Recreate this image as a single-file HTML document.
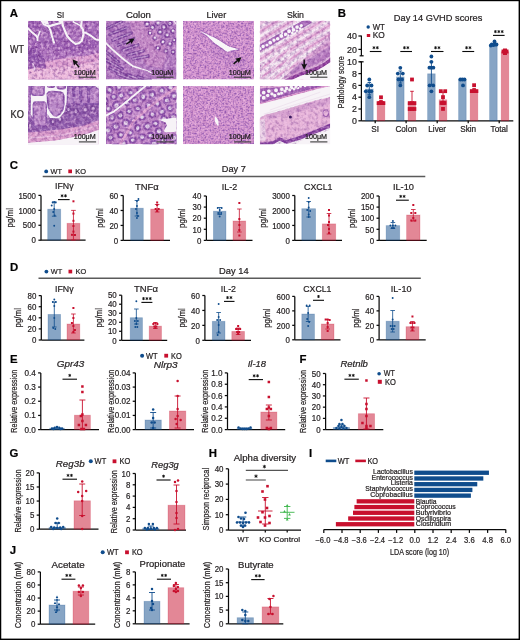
<!DOCTYPE html>
<html><head><meta charset="utf-8"><style>
html,body{margin:0;padding:0;background:#fff;width:520px;height:640px;overflow:hidden}
svg{display:block;font-family:"Liberation Sans", sans-serif;will-change:transform}
text{stroke:#231f20;stroke-width:0.22px}
</style></head><body>
<svg width="520" height="640" viewBox="0 0 520 640" fill="#231f20">
<defs><filter id="tD" x="0" y="0" width="100%" height="100%" color-interpolation-filters="sRGB"><feTurbulence type="fractalNoise" baseFrequency="0.32" numOctaves="2" seed="3"/><feColorMatrix type="matrix" values="0 0 0 0 0.42 0 0 0 0 0.16 0 0 0 0 0.52 2.3 0 0 0 -0.95"/><feGaussianBlur stdDeviation="0.4"/></filter><filter id="tL" x="0" y="0" width="100%" height="100%" color-interpolation-filters="sRGB"><feTurbulence type="fractalNoise" baseFrequency="0.34" numOctaves="2" seed="8"/><feColorMatrix type="matrix" values="0 0 0 0 0.97 0 0 0 0 0.82 0 0 0 0 0.94 0 2.4 0 0 -1.02"/><feGaussianBlur stdDeviation="0.4"/></filter><filter id="tD2" x="0" y="0" width="100%" height="100%" color-interpolation-filters="sRGB"><feTurbulence type="fractalNoise" baseFrequency="0.45" numOctaves="2" seed="21"/><feColorMatrix type="matrix" values="0 0 0 0 0.45 0 0 0 0 0.22 0 0 0 0 0.6 2.0 0 0 0 -0.85"/><feGaussianBlur stdDeviation="0.4"/></filter><filter id="lvD" x="0" y="0" width="100%" height="100%" color-interpolation-filters="sRGB"><feTurbulence type="fractalNoise" baseFrequency="0.6" numOctaves="1" seed="5"/><feColorMatrix type="matrix" values="0 0 0 0 0.56 0 0 0 0 0.34 0 0 0 0 0.7 3.2 0 0 0 -1.45"/><feGaussianBlur stdDeviation="0.35"/></filter><filter id="lvL" x="0" y="0" width="100%" height="100%" color-interpolation-filters="sRGB"><feTurbulence type="fractalNoise" baseFrequency="0.35" numOctaves="2" seed="9"/><feColorMatrix type="matrix" values="0 0 0 0 0.93 0 0 0 0 0.72 0 0 0 0 0.88 0 2.4 0 0 -1.0"/><feGaussianBlur stdDeviation="0.5"/></filter><clipPath id="cl0"><rect x="28.0" y="20.8" width="70.90" height="58.70"/></clipPath><mask id="mk0" maskUnits="userSpaceOnUse" x="28.0" y="20.8" width="70.90" height="58.70"><rect x="28.0" y="20.8" width="70.90" height="58.70" fill="#fff"/><path d="M27.0,27.3 L32.0,32.3 L36.2,35.8 L37.4,37.8 L37.6,40.3" fill="none" stroke="#000" stroke-width="2.0" stroke-linejoin="round" stroke-linecap="round"/><path d="M37.4,37.8 L40.0,31.3" fill="none" stroke="#000" stroke-width="1.6" stroke-linejoin="round" stroke-linecap="round"/><path d="M41.0,19.8 L43.7,24.2 L48.5,26.4 L50.5,30.4 L51.9,35.8 L53.3,40.6 L54.0,42.7" fill="none" stroke="#000" stroke-width="2.1" stroke-linejoin="round" stroke-linecap="round"/><path d="M48.5,26.4 L55.3,24.4 L60.8,23.0 L61.9,19.8" fill="none" stroke="#000" stroke-width="2.2" stroke-linejoin="round" stroke-linecap="round"/><path d="M61.9,19.8 L63.0,26.2 L65.0,31.0 L67.2,36.0 L71.0,40.5 L75.5,44.0 L78.8,43.2 L81.8,40.8 L83.5,33.9 L83.1,29.7 L81.0,26.6 L81.8,19.8" fill="none" stroke="#000" stroke-width="2.2" stroke-linejoin="round" stroke-linecap="round"/><path d="M83.5,32.4 L85.9,32.8 L89.0,34.6 L92.2,36.7 L95.6,39.4 L99.9,40.0" fill="none" stroke="#000" stroke-width="2.0" stroke-linejoin="round" stroke-linecap="round"/><path d="M73.4,19.8 L73.4,22.1 L77.0,23.8 L80.4,25.6" fill="none" stroke="#000" stroke-width="1.6" stroke-linejoin="round" stroke-linecap="round"/><path d="M40.5,19.8 L47.5,19.8 L49.2,24.8 L46.0,24.2 L42.5,22.8 Z" fill="#000" fill-rule="evenodd"/><path d="M57.0,19.8 L63.0,19.8 L62.5,23.5 L59.5,22.5 Z" fill="#000" fill-rule="evenodd"/></mask><clipPath id="cl1"><rect x="106.0" y="20.8" width="70.50" height="58.70"/></clipPath><mask id="mk1" maskUnits="userSpaceOnUse" x="106.0" y="20.8" width="70.50" height="58.70"><rect x="106.0" y="20.8" width="70.50" height="58.70" fill="#fff"/><path d="M105.0,42.2 L111.5,48.7 L116.9,53.5 L122.4,58.3 L128.5,63.0 L133.3,66.4 L140.2,68.5" fill="none" stroke="#000" stroke-width="1.8" stroke-linejoin="round" stroke-linecap="round"/><path d="M140.2,68.5 L147.0,70.5 L151.0,72.6" fill="none" stroke="#000" stroke-width="1.3" stroke-linejoin="round" stroke-linecap="round"/><path d="M173.0,19.8 L177.5,25.8" fill="none" stroke="#000" stroke-width="1.1" stroke-linejoin="round" stroke-linecap="round"/></mask><clipPath id="cl2"><rect x="183.0" y="20.8" width="71.00" height="58.70"/></clipPath><mask id="mk2" maskUnits="userSpaceOnUse" x="183.0" y="20.8" width="71.00" height="58.70"><rect x="183.0" y="20.8" width="71.00" height="58.70" fill="#fff"/><path d="M200.8,31.3 L205.6,33.4 L210.4,35.8 L215.2,37.9 L220.0,40.8 L224.8,44.0 L229.7,46.7 L234.5,48.1 L238.3,49.1 L238.3,49.6 L234.5,50.0 L230.6,50.8 L227.7,51.9 L224.8,50.6 L222.0,48.3 L219.1,46.3 L215.2,43.8 L212.3,41.0 L209.5,38.3 L206.6,35.6 L202.7,33.1 L200.8,31.8 Z" fill="#000" fill-rule="evenodd"/></mask><clipPath id="cl3"><rect x="259.8" y="20.8" width="70.40" height="58.70"/></clipPath><mask id="mk3" maskUnits="userSpaceOnUse" x="259.8" y="20.8" width="70.40" height="58.70"><rect x="259.8" y="20.8" width="70.40" height="58.70" fill="#fff"/><path d="M258.2,48.8 a1.7,1.7 0 1,0 3.4,0 a1.7,1.7 0 1,0 -3.4,0 M261.3,46.4 a1.8,1.8 0 1,0 3.6,0 a1.8,1.8 0 1,0 -3.6,0 M265.3,45.0 a1.6,1.6 0 1,0 3.2,0 a1.6,1.6 0 1,0 -3.2,0 M268.3,42.7 a1.9,1.9 0 1,0 3.8,0 a1.9,1.9 0 1,0 -3.8,0 M272.3,40.2 a1.7,1.7 0 1,0 3.4,0 a1.7,1.7 0 1,0 -3.4,0 M275.9,38.7 a1.8,1.8 0 1,0 3.6,0 a1.8,1.8 0 1,0 -3.6,0 M279.3,35.9 a2.0,2.0 0 1,0 4.0,0 a2.0,2.0 0 1,0 -4.0,0 M283.8,34.4 a1.9,1.9 0 1,0 3.8,0 a1.9,1.9 0 1,0 -3.8,0 M287.1,31.3 a2.0,2.0 0 1,0 4.0,0 a2.0,2.0 0 1,0 -4.0,0 M291.5,29.8 a1.9,1.9 0 1,0 3.8,0 a1.9,1.9 0 1,0 -3.8,0 M295.2,27.1 a1.9,1.9 0 1,0 3.8,0 a1.9,1.9 0 1,0 -3.8,0 M299.6,25.6 a1.7,1.7 0 1,0 3.4,0 a1.7,1.7 0 1,0 -3.4,0 M286.7,35.5 a1.3,1.3 0 1,0 2.6,0 a1.3,1.3 0 1,0 -2.6,0 M290.9,32.9 a1.4,1.4 0 1,0 2.8,0 a1.4,1.4 0 1,0 -2.8,0 M295.5,30.8 a1.3,1.3 0 1,0 2.6,0 a1.3,1.3 0 1,0 -2.6,0 M298.8,28.5 a1.3,1.3 0 1,0 2.6,0 a1.3,1.3 0 1,0 -2.6,0 M281.0,33.1 a1.1,1.1 0 1,0 2.2,0 a1.1,1.1 0 1,0 -2.2,0 M291.2,27.1 a1.2,1.2 0 1,0 2.4,0 a1.2,1.2 0 1,0 -2.4,0 " fill="#000" fill-rule="evenodd"/><path d="M288.0,80.5 L292.0,80.0 L299.3,76.6 L308.0,73.6 L317.0,70.5 L324.0,66.5 L331.2,61.5 L331.2,80.5 Z" fill="#000" fill-rule="evenodd"/></mask><clipPath id="cl4"><rect x="28.0" y="86.1" width="70.90" height="58.10"/></clipPath><mask id="mk4" maskUnits="userSpaceOnUse" x="28.0" y="86.1" width="70.90" height="58.10"><rect x="28.0" y="86.1" width="70.90" height="58.10" fill="#fff"/><path d="M29.5,85.0 L66.3,85.0 L66.3,103.0 L64.5,112.0 L59.0,118.5 L50.0,118.0 L47.5,114.0 L47.5,118.0 L33.0,118.0 L30.5,114.0 Z" fill="#000" fill-rule="evenodd"/><path d="M28.0,142.7 L55.3,140.6 L82.6,135.2 L98.9,129.7 L98.9,145.2 L28.0,145.2 Z" fill="#000" fill-rule="evenodd"/><path d="M66.3,85.0 L65.8,103.0" fill="none" stroke="#000" stroke-width="1.5" stroke-linejoin="round" stroke-linecap="round"/><path d="M94.0,85.0 L99.5,85.0 L99.5,89.5 L97.0,87.6 Z" fill="#000" fill-rule="evenodd"/><path d="M34.3,84.0 L41.5,84.0 Q44.0,84.0 44.0,86.5 L44.0,92.7 Q44.0,95.2 41.5,95.2 L34.3,95.2 Q31.8,95.2 31.8,92.7 L31.8,86.5 Q31.8,84.0 34.3,84.0 Z" fill="#fff" stroke="#fff" stroke-width="1.6"/><path d="M47.4,93.5 L48.8,92.0 L52.0,91.6 L60.0,92.0 L62.6,93.0 L63.8,96.0 L63.8,104.0 L62.8,109.5 L60.0,114.0 L56.5,116.0 L53.8,115.2 L51.0,112.0 L48.6,107.5 L47.8,103.0 Z" fill="#fff" stroke="#fff" stroke-width="1.6"/><path d="M33.4,104.5 L34.2,102.4 L36.5,102.0 L43.8,102.0 L45.6,103.0 L46.2,106.0 L46.2,126.0 L33.4,126.0 Z" fill="#fff" stroke="#fff" stroke-width="1.6"/><path d="M49.6,83.0 L52.6,83.0 Q54.6,83.0 54.6,85.0 L54.6,85.2 Q54.6,87.2 52.6,87.2 L49.6,87.2 Q47.6,87.2 47.6,85.2 L47.6,85.0 Q47.6,83.0 49.6,83.0 Z" fill="#fff" stroke="#fff" stroke-width="1.6"/><path d="M59.9,83.0 L62.9,83.0 Q65.4,83.0 65.4,85.5 L65.4,86.3 Q65.4,88.8 62.9,88.8 L59.9,88.8 Q57.4,88.8 57.4,86.3 L57.4,85.5 Q57.4,83.0 59.9,83.0 Z" fill="#fff" stroke="#fff" stroke-width="1.6"/><path d="M27.0,85.0 L30.0,85.0 L30.2,95.0 L29.8,112.0 L27.0,112.0 Z" fill="#fff" stroke="#fff" stroke-width="1.6"/></mask><clipPath id="cl5"><rect x="106.0" y="86.1" width="70.50" height="58.10"/></clipPath><mask id="mk5" maskUnits="userSpaceOnUse" x="106.0" y="86.1" width="70.50" height="58.10"><rect x="106.0" y="86.1" width="70.50" height="58.10" fill="#fff"/><path d="M105.0,116.1 L114.2,111.3 L122.4,105.1 L130.6,98.3 L138.8,91.5 L146.0,85.6" fill="none" stroke="#000" stroke-width="1.9" stroke-linejoin="round" stroke-linecap="round"/><path d="M158.0,119.4 L165.6,122.5 L166.9,125.6 L165.6,127.5 L163.8,131.3 L166.3,132.5 L173.8,131.9 L177.5,131.3 L177.5,117.5 L170.0,118.2 L165.6,119.0 Z" fill="#000" fill-rule="evenodd"/></mask><clipPath id="cl6"><rect x="183.0" y="86.1" width="71.00" height="58.10"/></clipPath><mask id="mk6" maskUnits="userSpaceOnUse" x="183.0" y="86.1" width="71.00" height="58.10"><rect x="183.0" y="86.1" width="71.00" height="58.10" fill="#fff"/><path d="M214.9,116.6 Q216.8,117 218.4,121 Q219.2,125.5 218.1,126.3 Q216.2,124.5 215.0,121.5 Q214.4,118 214.9,116.6 Z" fill="#000" fill-rule="evenodd"/></mask><clipPath id="cl7"><rect x="259.8" y="86.1" width="70.40" height="58.10"/></clipPath><mask id="mk7" maskUnits="userSpaceOnUse" x="259.8" y="86.1" width="70.40" height="58.10"><rect x="259.8" y="86.1" width="70.40" height="58.10" fill="#fff"/><path d="M261.8,92.7 a1.9,1.9 0 1,0 3.8,0 a1.9,1.9 0 1,0 -3.8,0 M267.0,91.1 a1.9,1.9 0 1,0 3.8,0 a1.9,1.9 0 1,0 -3.8,0 M274.0,90.3 a2.0,2.0 0 1,0 4.0,0 a2.0,2.0 0 1,0 -4.0,0 M280.0,89.2 a1.9,1.9 0 1,0 3.8,0 a1.9,1.9 0 1,0 -3.8,0 M284.8,88.4 a1.8,1.8 0 1,0 3.6,0 a1.8,1.8 0 1,0 -3.6,0 M289.5,87.6 a1.8,1.8 0 1,0 3.6,0 a1.8,1.8 0 1,0 -3.6,0 M294.4,86.9 a1.6,1.6 0 1,0 3.2,0 a1.6,1.6 0 1,0 -3.2,0 M299.0,86.3 a1.5,1.5 0 1,0 3.0,0 a1.5,1.5 0 1,0 -3.0,0 M303.7,86.0 a1.3,1.3 0 1,0 2.6,0 a1.3,1.3 0 1,0 -2.6,0 M261.7,97.8 a2.0,2.0 0 1,0 4.0,0 a2.0,2.0 0 1,0 -4.0,0 M265.9,95.5 a1.8,1.8 0 1,0 3.6,0 a1.8,1.8 0 1,0 -3.6,0 M270.2,93.9 a1.7,1.7 0 1,0 3.4,0 a1.7,1.7 0 1,0 -3.4,0 M273.1,95.5 a1.7,1.7 0 1,0 3.4,0 a1.7,1.7 0 1,0 -3.4,0 M277.0,93.9 a1.7,1.7 0 1,0 3.4,0 a1.7,1.7 0 1,0 -3.4,0 M279.9,93.1 a1.6,1.6 0 1,0 3.2,0 a1.6,1.6 0 1,0 -3.2,0 M283.3,91.1 a1.7,1.7 0 1,0 3.4,0 a1.7,1.7 0 1,0 -3.4,0 M288.1,89.9 a1.6,1.6 0 1,0 3.2,0 a1.6,1.6 0 1,0 -3.2,0 M292.5,88.9 a1.5,1.5 0 1,0 3.0,0 a1.5,1.5 0 1,0 -3.0,0 M296.7,88.0 a1.3,1.3 0 1,0 2.6,0 a1.3,1.3 0 1,0 -2.6,0 M259.3,95.5 a1.2,1.2 0 1,0 2.4,0 a1.2,1.2 0 1,0 -2.4,0 " fill="#000" fill-rule="evenodd"/><path d="M258.8,104.6 L279.5,99.2 L300.0,93.7 L320.0,88.4 L331.2,86.0 L331.2,96.4 L313.6,100.5 L300.0,104.6 L286.3,108.7 L272.7,112.8 L265.8,114.1 L258.8,118.3 Z" fill="#000" fill-rule="evenodd"/><path d="M299.8,141.2 L313.6,135.7 L331.2,129.2 L331.2,145.2 L295.8,145.2 Z" fill="#000" fill-rule="evenodd"/></mask></defs>
<rect x="0" y="0" width="520" height="640" fill="#fff"/>
<text x="9.80" y="17.20" font-size="11.4" fill="#000" font-weight="bold" >A</text>
<text x="56.70" y="17.70" font-size="9.4" textLength="7.50" lengthAdjust="spacingAndGlyphs" >SI</text>
<text x="125.90" y="17.60" font-size="9.4" textLength="25.00" lengthAdjust="spacingAndGlyphs" >Colon</text>
<text x="206.50" y="17.60" font-size="9.4" textLength="19.70" lengthAdjust="spacingAndGlyphs" >Liver</text>
<text x="286.90" y="17.60" font-size="9.4" textLength="17.10" lengthAdjust="spacingAndGlyphs" >Skin</text>
<text x="10.00" y="53.00" font-size="10.3" textLength="14.00" lengthAdjust="spacingAndGlyphs" >WT</text>
<text x="10.60" y="118.20" font-size="10.3" textLength="13.30" lengthAdjust="spacingAndGlyphs" >KO</text>
<g clip-path="url(#cl0)">
<rect x="28.00" y="20.80" width="70.90" height="58.70" fill="#9a5eb2" />
<path d="M62.0,20.8 L85.0,20.8 L85.0,34.8 L80.0,42.8 L73.0,43.8 L68.0,36.8 L64.0,28.8 Z" fill="#a86eba"/>
<path d="M88.0,20.8 L98.9,20.8 L98.9,37.8 L96.0,36.8 L88.0,26.8 Z" fill="#a66cba"/>
<path d="M42.0,24.8 L48.0,27.8 L52.0,38.8 L54.0,44.8 L40.0,44.8 L37.0,38.8 Z" fill="#a26ab8"/>
<path d="M38.0,48.8 L58.0,50.8 L78.0,52.8 L98.9,46.8 L98.9,60.8 L68.0,62.8 L38.0,64.8 Z" fill="#b278c0" opacity="0.8"/>
<path d="M28.0,63.5 L40.0,62.5 L52.0,60.5 L68.0,57.5 L88.0,55.5 L98.9,52.5 L98.9,79.5 L28.0,79.5 Z" fill="#e0a2d0"/>
<path d="M28.0,69.5 L58.0,67.5 L98.9,61.5 L98.9,79.5 L28.0,79.5 Z" fill="#eebcdc"/>
<path d="M28.0,46.8 L36.0,48.8 L44.0,56.8 L46.0,68.8 L38.0,67.5 L28.0,69.5 Z" fill="#8a50a8" opacity="0.85"/>
<path d="M32.0,62.8 Q36.0,66.8 34.0,70.8" stroke="#e0d0ec" stroke-width="1.2" fill="none"/>
<path d="M27.0,27.3 L32.0,32.3 L36.2,35.8 L37.4,37.8 L37.6,40.3" fill="none" stroke="#f7f3f7" stroke-width="2.0" stroke-linejoin="round" stroke-linecap="round"/>
<path d="M37.4,37.8 L40.0,31.3" fill="none" stroke="#f7f3f7" stroke-width="1.6" stroke-linejoin="round" stroke-linecap="round"/>
<path d="M41.0,19.8 L43.7,24.2 L48.5,26.4 L50.5,30.4 L51.9,35.8 L53.3,40.6 L54.0,42.7" fill="none" stroke="#f7f3f7" stroke-width="2.1" stroke-linejoin="round" stroke-linecap="round"/>
<path d="M48.5,26.4 L55.3,24.4 L60.8,23.0 L61.9,19.8" fill="none" stroke="#f7f3f7" stroke-width="2.2" stroke-linejoin="round" stroke-linecap="round"/>
<path d="M61.9,19.8 L63.0,26.2 L65.0,31.0 L67.2,36.0 L71.0,40.5 L75.5,44.0 L78.8,43.2 L81.8,40.8 L83.5,33.9 L83.1,29.7 L81.0,26.6 L81.8,19.8" fill="none" stroke="#f7f3f7" stroke-width="2.2" stroke-linejoin="round" stroke-linecap="round"/>
<path d="M83.5,32.4 L85.9,32.8 L89.0,34.6 L92.2,36.7 L95.6,39.4 L99.9,40.0" fill="none" stroke="#f7f3f7" stroke-width="2.0" stroke-linejoin="round" stroke-linecap="round"/>
<path d="M73.4,19.8 L73.4,22.1 L77.0,23.8 L80.4,25.6" fill="none" stroke="#f7f3f7" stroke-width="1.6" stroke-linejoin="round" stroke-linecap="round"/>
<path d="M40.5,19.8 L47.5,19.8 L49.2,24.8 L46.0,24.2 L42.5,22.8 Z" fill="#f7f3f7" fill-rule="evenodd"/>
<path d="M57.0,19.8 L63.0,19.8 L62.5,23.5 L59.5,22.5 Z" fill="#f7f3f7" fill-rule="evenodd"/>
<rect x="28.0" y="20.8" width="70.90" height="58.70" filter="url(#tD)" opacity="0.7" mask="url(#mk0)"/>
<rect x="28.0" y="20.8" width="70.90" height="58.70" filter="url(#tL)" opacity="0.75" mask="url(#mk0)"/>
</g>
<g transform="translate(72.50,59.30) rotate(-40) scale(1.2)"><path d="M0,0 L-2.4,5.0 L-0.6,4.4 L-0.6,8.6 L0.6,8.6 L0.6,4.4 L2.4,5.0 Z" fill="#111"/></g>
<text x="73.70" y="74.60" font-size="7.6" fill="#141414" textLength="22.00" lengthAdjust="spacingAndGlyphs" >100&#956;M</text>
<line x1="78.90" y1="77.20" x2="96.10" y2="77.20" stroke="#3a3a3a" stroke-width="1.1" />
<g clip-path="url(#cl1)">
<rect x="106.00" y="20.80" width="70.50" height="58.70" fill="#b07ac0" />
<path d="M130.0,20.8 L151.0,20.8 L168.0,50.8 L162.0,68.8 L146.0,64.8 L132.0,42.8 Z" fill="#cc8ec8" opacity="0.7"/>
<path d="M108,28 L121,22" stroke="#7e469e" stroke-width="3.8" stroke-linecap="round"/>
<path d="M108,28 L121,22" stroke="#d6bce2" stroke-width="0.8" stroke-linecap="round" opacity="0.8"/>
<path d="M110,34 L126,28" stroke="#7e469e" stroke-width="3.8" stroke-linecap="round"/>
<path d="M110,34 L126,28" stroke="#d6bce2" stroke-width="0.8" stroke-linecap="round" opacity="0.8"/>
<path d="M113,40 L131,33" stroke="#7e469e" stroke-width="3.8" stroke-linecap="round"/>
<path d="M113,40 L131,33" stroke="#d6bce2" stroke-width="0.8" stroke-linecap="round" opacity="0.8"/>
<path d="M118,45 L134,39" stroke="#7e469e" stroke-width="3.8" stroke-linecap="round"/>
<path d="M118,45 L134,39" stroke="#d6bce2" stroke-width="0.8" stroke-linecap="round" opacity="0.8"/>
<path d="M123,50 L138,45" stroke="#7e469e" stroke-width="3.8" stroke-linecap="round"/>
<path d="M123,50 L138,45" stroke="#d6bce2" stroke-width="0.8" stroke-linecap="round" opacity="0.8"/>
<path d="M128,55 L143,51" stroke="#7e469e" stroke-width="3.8" stroke-linecap="round"/>
<path d="M128,55 L143,51" stroke="#d6bce2" stroke-width="0.8" stroke-linecap="round" opacity="0.8"/>
<path d="M133,59 L148,56" stroke="#7e469e" stroke-width="3.8" stroke-linecap="round"/>
<path d="M133,59 L148,56" stroke="#d6bce2" stroke-width="0.8" stroke-linecap="round" opacity="0.8"/>
<path d="M106,52 L118,62" stroke="#7e469e" stroke-width="3.8" stroke-linecap="round"/>
<path d="M106,52 L118,62" stroke="#d6bce2" stroke-width="0.8" stroke-linecap="round" opacity="0.8"/>
<path d="M106,60 L122,69" stroke="#7e469e" stroke-width="3.8" stroke-linecap="round"/>
<path d="M106,60 L122,69" stroke="#d6bce2" stroke-width="0.8" stroke-linecap="round" opacity="0.8"/>
<path d="M110,68 L126,76" stroke="#7e469e" stroke-width="3.8" stroke-linecap="round"/>
<path d="M110,68 L126,76" stroke="#d6bce2" stroke-width="0.8" stroke-linecap="round" opacity="0.8"/>
<path d="M118,74 L134,80" stroke="#7e469e" stroke-width="3.8" stroke-linecap="round"/>
<path d="M118,74 L134,80" stroke="#d6bce2" stroke-width="0.8" stroke-linecap="round" opacity="0.8"/>
<path d="M128,75 L142,80" stroke="#7e469e" stroke-width="3.8" stroke-linecap="round"/>
<path d="M128,75 L142,80" stroke="#d6bce2" stroke-width="0.8" stroke-linecap="round" opacity="0.8"/>
<path d="M138,77 L150,80" stroke="#7e469e" stroke-width="3.8" stroke-linecap="round"/>
<path d="M138,77 L150,80" stroke="#d6bce2" stroke-width="0.8" stroke-linecap="round" opacity="0.8"/>
<circle cx="147" cy="24" r="3.12" fill="#7e449e"/><circle cx="147" cy="24" r="1.56" fill="#efe6f3"/>
<circle cx="152.5" cy="27.5" r="2.88" fill="#7e449e"/><circle cx="152.5" cy="27.5" r="1.44" fill="#efe6f3"/>
<circle cx="158" cy="23" r="3.12" fill="#7e449e"/><circle cx="158" cy="23" r="1.56" fill="#efe6f3"/>
<circle cx="164" cy="27" r="3.00" fill="#7e449e"/><circle cx="164" cy="27" r="1.50" fill="#efe6f3"/>
<circle cx="170" cy="23.5" r="2.88" fill="#7e449e"/><circle cx="170" cy="23.5" r="1.44" fill="#efe6f3"/>
<circle cx="160" cy="32" r="3.00" fill="#7e449e"/><circle cx="160" cy="32" r="1.50" fill="#efe6f3"/>
<circle cx="167" cy="35" r="2.88" fill="#7e449e"/><circle cx="167" cy="35" r="1.44" fill="#efe6f3"/>
<circle cx="173" cy="31" r="2.76" fill="#7e449e"/><circle cx="173" cy="31" r="1.38" fill="#efe6f3"/>
<circle cx="155" cy="38" r="2.76" fill="#7e449e"/><circle cx="155" cy="38" r="1.38" fill="#efe6f3"/>
<circle cx="163" cy="42" r="2.88" fill="#7e449e"/><circle cx="163" cy="42" r="1.44" fill="#efe6f3"/>
<circle cx="170" cy="44" r="2.76" fill="#7e449e"/><circle cx="170" cy="44" r="1.38" fill="#efe6f3"/>
<circle cx="150" cy="33" r="2.40" fill="#7e449e"/><circle cx="150" cy="33" r="1.20" fill="#efe6f3"/>
<circle cx="174" cy="40" r="2.40" fill="#7e449e"/><circle cx="174" cy="40" r="1.20" fill="#efe6f3"/>
<circle cx="158" cy="48" r="2.64" fill="#7e449e"/><circle cx="158" cy="48" r="1.32" fill="#efe6f3"/>
<circle cx="166" cy="51" r="2.64" fill="#7e449e"/><circle cx="166" cy="51" r="1.32" fill="#efe6f3"/>
<circle cx="173" cy="52" r="2.40" fill="#7e449e"/><circle cx="173" cy="52" r="1.20" fill="#efe6f3"/>
<path d="M105.0,42.2 L111.5,48.7 L116.9,53.5 L122.4,58.3 L128.5,63.0 L133.3,66.4 L140.2,68.5" fill="none" stroke="#f7f3f7" stroke-width="1.8" stroke-linejoin="round" stroke-linecap="round"/>
<path d="M140.2,68.5 L147.0,70.5 L151.0,72.6" fill="none" stroke="#f7f3f7" stroke-width="1.3" stroke-linejoin="round" stroke-linecap="round"/>
<path d="M173.0,19.8 L177.5,25.8" fill="none" stroke="#f7f3f7" stroke-width="1.1" stroke-linejoin="round" stroke-linecap="round"/>
<rect x="106.0" y="20.8" width="70.50" height="58.70" filter="url(#tD)" opacity="0.55" mask="url(#mk1)"/>
<rect x="106.0" y="20.8" width="70.50" height="58.70" filter="url(#tL)" opacity="0.6" mask="url(#mk1)"/>
</g>
<g transform="translate(134.70,38.30) rotate(55) scale(1.2)"><path d="M0,0 L-2.4,5.0 L-0.6,4.4 L-0.6,8.6 L0.6,8.6 L0.6,4.4 L2.4,5.0 Z" fill="#111"/></g>
<text x="151.30" y="74.60" font-size="7.6" fill="#141414" textLength="22.00" lengthAdjust="spacingAndGlyphs" >100&#956;M</text>
<line x1="156.50" y1="77.20" x2="173.70" y2="77.20" stroke="#3a3a3a" stroke-width="1.1" />
<g clip-path="url(#cl2)">
<rect x="183.00" y="20.80" width="71.00" height="58.70" fill="#dc9ed4" />
<path d="M211.0,40.8 L233.0,48.8 L247.0,60.8 L243.0,68.8 L227.0,64.8 L213.0,54.8 Z" fill="#b476c0" opacity="0.3"/>
<path d="M200.8,31.3 L205.6,33.4 L210.4,35.8 L215.2,37.9 L220.0,40.8 L224.8,44.0 L229.7,46.7 L234.5,48.1 L238.3,49.1 L238.3,49.6 L234.5,50.0 L230.6,50.8 L227.7,51.9 L224.8,50.6 L222.0,48.3 L219.1,46.3 L215.2,43.8 L212.3,41.0 L209.5,38.3 L206.6,35.6 L202.7,33.1 L200.8,31.8 Z" fill="none" stroke="#9a5cb4" stroke-width="2.2" opacity="0.7"/>
<path d="M200.8,31.3 L205.6,33.4 L210.4,35.8 L215.2,37.9 L220.0,40.8 L224.8,44.0 L229.7,46.7 L234.5,48.1 L238.3,49.1 L238.3,49.6 L234.5,50.0 L230.6,50.8 L227.7,51.9 L224.8,50.6 L222.0,48.3 L219.1,46.3 L215.2,43.8 L212.3,41.0 L209.5,38.3 L206.6,35.6 L202.7,33.1 L200.8,31.8 Z" fill="#f8f6f8" fill-rule="evenodd"/>
<rect x="183.0" y="20.8" width="71.00" height="58.70" filter="url(#lvL)" opacity="0.8" mask="url(#mk2)"/>
<rect x="183.0" y="20.8" width="71.00" height="58.70" filter="url(#lvD)" opacity="0.85" mask="url(#mk2)"/>
<rect x="183.0" y="20.8" width="71.00" height="58.70" filter="url(#tD)" opacity="0.25" mask="url(#mk2)"/>
</g>
<g transform="translate(241.50,57.20) rotate(50) scale(1.2)"><path d="M0,0 L-2.4,5.0 L-0.6,4.4 L-0.6,8.6 L0.6,8.6 L0.6,4.4 L2.4,5.0 Z" fill="#111"/></g>
<text x="228.80" y="74.60" font-size="7.6" fill="#141414" textLength="22.00" lengthAdjust="spacingAndGlyphs" >100&#956;M</text>
<line x1="234.00" y1="77.20" x2="251.20" y2="77.20" stroke="#3a3a3a" stroke-width="1.1" />
<g clip-path="url(#cl3)">
<rect x="259.80" y="20.80" width="70.40" height="58.70" fill="#ecc8e4" />
<path d="M257.8,28.400000000000002 L332.2,-17.599999999999998" stroke="#f8f2f6" stroke-width="2.4" opacity="0.9"/>
<path d="M257.8,33.0 L332.2,-12.999999999999998" stroke="#dc98cc" stroke-width="1.6" opacity="0.9"/>
<path d="M257.8,37.6 L332.2,-8.399999999999999" stroke="#f8f2f6" stroke-width="2.4" opacity="0.9"/>
<path d="M257.8,42.2 L332.2,-3.799999999999997" stroke="#dc98cc" stroke-width="1.6" opacity="0.9"/>
<path d="M257.8,46.8 L332.2,0.8000000000000007" stroke="#f8f2f6" stroke-width="2.4" opacity="0.9"/>
<path d="M257.8,51.4 L332.2,5.399999999999999" stroke="#dc98cc" stroke-width="1.6" opacity="0.9"/>
<path d="M257.8,56.0 L332.2,10.0" stroke="#f8f2f6" stroke-width="2.4" opacity="0.9"/>
<path d="M257.8,60.6 L332.2,14.600000000000001" stroke="#dc98cc" stroke-width="1.6" opacity="0.9"/>
<path d="M257.8,65.2 L332.2,19.200000000000003" stroke="#f8f2f6" stroke-width="2.4" opacity="0.9"/>
<path d="M257.8,69.8 L332.2,23.799999999999997" stroke="#dc98cc" stroke-width="1.6" opacity="0.9"/>
<path d="M257.8,74.4 L332.2,28.4" stroke="#f8f2f6" stroke-width="2.4" opacity="0.9"/>
<path d="M257.8,79.0 L332.2,33.0" stroke="#dc98cc" stroke-width="1.6" opacity="0.9"/>
<path d="M257.8,83.6 L332.2,37.599999999999994" stroke="#f8f2f6" stroke-width="2.4" opacity="0.9"/>
<path d="M257.8,88.2 L332.2,42.2" stroke="#dc98cc" stroke-width="1.6" opacity="0.9"/>
<path d="M257.8,92.8 L332.2,46.8" stroke="#f8f2f6" stroke-width="2.4" opacity="0.9"/>
<path d="M257.8,97.39999999999999 L332.2,51.39999999999999" stroke="#dc98cc" stroke-width="1.6" opacity="0.9"/>
<path d="M257.8,102.0 L332.2,56.0" stroke="#f8f2f6" stroke-width="2.4" opacity="0.9"/>
<path d="M257.8,106.6 L332.2,60.599999999999994" stroke="#dc98cc" stroke-width="1.6" opacity="0.9"/>
<path d="M257.8,111.19999999999999 L332.2,65.19999999999999" stroke="#f8f2f6" stroke-width="2.4" opacity="0.9"/>
<path d="M257.8,115.8 L332.2,69.8" stroke="#dc98cc" stroke-width="1.6" opacity="0.9"/>
<path d="M249.8,81.5 L275.8,49.5" stroke="#f8f2f6" stroke-width="1.8" opacity="0.75"/>
<path d="M256.8,81.5 L282.8,49.5" stroke="#f8f2f6" stroke-width="1.8" opacity="0.75"/>
<path d="M263.8,81.5 L289.8,49.5" stroke="#f8f2f6" stroke-width="1.8" opacity="0.75"/>
<path d="M270.8,81.5 L296.8,49.5" stroke="#f8f2f6" stroke-width="1.8" opacity="0.75"/>
<path d="M277.8,81.5 L303.8,49.5" stroke="#f8f2f6" stroke-width="1.8" opacity="0.75"/>
<path d="M284.8,81.5 L310.8,49.5" stroke="#f8f2f6" stroke-width="1.8" opacity="0.75"/>
<path d="M291.8,81.5 L317.8,49.5" stroke="#f8f2f6" stroke-width="1.8" opacity="0.75"/>
<path d="M298.8,81.5 L324.8,49.5" stroke="#f8f2f6" stroke-width="1.8" opacity="0.75"/>
<path d="M256.3,46.5 L308.3,17.5 L311.5,23.1 L259.5,52.1 Z" fill="#a466b8"/>
<path d="M281.0,79.5 L296.0,66.0 L312.0,52.0 L330.2,36.0 L330.2,58.0 L317.0,66.6 L299.3,72.8 L290.0,76.8 Z" fill="#d096cc" opacity="0.7"/>
<path d="M290.0,72.0 L300.0,64.0 L314.0,56.0 L330.2,46.0 L330.2,56.0 L317.0,64.0 L299.3,71.0 L292.0,75.0 Z" fill="#a060b4" opacity="0.55"/>
<path d="M283.5,80.5 L290.0,76.8 L299.3,72.8 L308.0,69.8 L317.0,66.6 L324.0,62.5 L331.2,57.2 L331.2,61.5 L324.0,66.5 L317.0,70.5 L308.0,73.6 L299.3,76.6 L292.0,80.0 L288.0,80.5 Z" fill="#8a3898"/>
<path d="M258.2,48.8 a1.7,1.7 0 1,0 3.4,0 a1.7,1.7 0 1,0 -3.4,0 M261.3,46.4 a1.8,1.8 0 1,0 3.6,0 a1.8,1.8 0 1,0 -3.6,0 M265.3,45.0 a1.6,1.6 0 1,0 3.2,0 a1.6,1.6 0 1,0 -3.2,0 M268.3,42.7 a1.9,1.9 0 1,0 3.8,0 a1.9,1.9 0 1,0 -3.8,0 M272.3,40.2 a1.7,1.7 0 1,0 3.4,0 a1.7,1.7 0 1,0 -3.4,0 M275.9,38.7 a1.8,1.8 0 1,0 3.6,0 a1.8,1.8 0 1,0 -3.6,0 M279.3,35.9 a2.0,2.0 0 1,0 4.0,0 a2.0,2.0 0 1,0 -4.0,0 M283.8,34.4 a1.9,1.9 0 1,0 3.8,0 a1.9,1.9 0 1,0 -3.8,0 M287.1,31.3 a2.0,2.0 0 1,0 4.0,0 a2.0,2.0 0 1,0 -4.0,0 M291.5,29.8 a1.9,1.9 0 1,0 3.8,0 a1.9,1.9 0 1,0 -3.8,0 M295.2,27.1 a1.9,1.9 0 1,0 3.8,0 a1.9,1.9 0 1,0 -3.8,0 M299.6,25.6 a1.7,1.7 0 1,0 3.4,0 a1.7,1.7 0 1,0 -3.4,0 M286.7,35.5 a1.3,1.3 0 1,0 2.6,0 a1.3,1.3 0 1,0 -2.6,0 M290.9,32.9 a1.4,1.4 0 1,0 2.8,0 a1.4,1.4 0 1,0 -2.8,0 M295.5,30.8 a1.3,1.3 0 1,0 2.6,0 a1.3,1.3 0 1,0 -2.6,0 M298.8,28.5 a1.3,1.3 0 1,0 2.6,0 a1.3,1.3 0 1,0 -2.6,0 M281.0,33.1 a1.1,1.1 0 1,0 2.2,0 a1.1,1.1 0 1,0 -2.2,0 M291.2,27.1 a1.2,1.2 0 1,0 2.4,0 a1.2,1.2 0 1,0 -2.4,0 " fill="#f8f4f8" fill-rule="evenodd"/>
<path d="M288.0,80.5 L292.0,80.0 L299.3,76.6 L308.0,73.6 L317.0,70.5 L324.0,66.5 L331.2,61.5 L331.2,80.5 Z" fill="#f8f4f8" fill-rule="evenodd"/>
<rect x="259.8" y="20.8" width="70.40" height="58.70" filter="url(#tD)" opacity="0.5" mask="url(#mk3)"/>
<rect x="259.8" y="20.8" width="70.40" height="58.70" filter="url(#tL)" opacity="0.45" mask="url(#mk3)"/>
</g>
<g transform="translate(304.20,69.80) rotate(180) scale(1.2)"><path d="M0,0 L-2.4,5.0 L-0.6,4.4 L-0.6,8.6 L0.6,8.6 L0.6,4.4 L2.4,5.0 Z" fill="#111"/></g>
<text x="305.00" y="74.60" font-size="7.6" fill="#141414" textLength="22.00" lengthAdjust="spacingAndGlyphs" >100&#956;M</text>
<line x1="310.20" y1="77.20" x2="327.40" y2="77.20" stroke="#3a3a3a" stroke-width="1.1" />
<g clip-path="url(#cl4)">
<rect x="28.00" y="86.10" width="70.90" height="58.10" fill="#8e5cac" />
<path d="M28.0,132.4 L48.0,130.7 L63.5,129.0 L83.0,125.7 L98.9,120.2 L98.9,144.2 L28.0,144.2 Z" fill="#dc9ecc"/>
<path d="M28.0,138.2 L63.0,135.2 L98.9,125.19999999999999" stroke="#ecc0e0" stroke-width="1.5" fill="none"/>
<path d="M67.2,104.0 L67.8,88.0 L70.0,85.5 L72.5,86.5 L73.6,104.0 Z" fill="#b888c8" stroke="#8452a8" stroke-width="1.6"/>
<path d="M74.4,104.0 L74.6,88.0 L77.0,85.8 L79.6,87.0 L80.4,104.0 Z" fill="#b888c8" stroke="#8452a8" stroke-width="1.6"/>
<path d="M81.2,104.0 L81.6,88.5 L84.5,86.0 L87.6,87.5 L88.2,104.0 Z" fill="#b888c8" stroke="#8452a8" stroke-width="1.6"/>
<path d="M89.0,104.0 L89.6,89.0 L93.0,86.5 L97.0,88.0 L99.5,90.0 L99.5,104.0 Z" fill="#b888c8" stroke="#8452a8" stroke-width="1.6"/>
<ellipse cx="68.5" cy="109.5" rx="3.0" ry="4.0" fill="#7c4a9c"/><ellipse cx="68.5" cy="109.5" rx="1.20" ry="1.80" fill="#d0b0dc"/>
<ellipse cx="76" cy="111.2" rx="3.2" ry="4.2" fill="#7c4a9c"/><ellipse cx="76" cy="111.2" rx="1.28" ry="1.89" fill="#d0b0dc"/>
<ellipse cx="85.4" cy="109.5" rx="3.3" ry="4.2" fill="#7c4a9c"/><ellipse cx="85.4" cy="109.5" rx="1.32" ry="1.89" fill="#d0b0dc"/>
<ellipse cx="93.5" cy="108.5" rx="3.2" ry="4.0" fill="#7c4a9c"/><ellipse cx="93.5" cy="108.5" rx="1.28" ry="1.80" fill="#d0b0dc"/>
<ellipse cx="37.5" cy="124" rx="3" ry="3.6" fill="#7c4a9c"/><ellipse cx="37.5" cy="124" rx="1.20" ry="1.62" fill="#d0b0dc"/>
<ellipse cx="45" cy="123" rx="3" ry="3.6" fill="#7c4a9c"/><ellipse cx="45" cy="123" rx="1.20" ry="1.62" fill="#d0b0dc"/>
<ellipse cx="53" cy="121.5" rx="3" ry="3.8" fill="#7c4a9c"/><ellipse cx="53" cy="121.5" rx="1.20" ry="1.71" fill="#d0b0dc"/>
<ellipse cx="60" cy="119" rx="2.8" ry="3.8" fill="#7c4a9c"/><ellipse cx="60" cy="119" rx="1.12" ry="1.71" fill="#d0b0dc"/>
<ellipse cx="30" cy="125" rx="2.6" ry="3.4" fill="#7c4a9c"/><ellipse cx="30" cy="125" rx="1.04" ry="1.53" fill="#d0b0dc"/>
<path d="M29.5,85.0 L66.3,85.0 L66.3,103.0 L64.5,112.0 L59.0,118.5 L50.0,118.0 L47.5,114.0 L47.5,118.0 L33.0,118.0 L30.5,114.0 Z" fill="#f7f3f7" fill-rule="evenodd"/>
<path d="M28.0,142.7 L55.3,140.6 L82.6,135.2 L98.9,129.7 L98.9,145.2 L28.0,145.2 Z" fill="#f7f3f7" fill-rule="evenodd"/>
<path d="M66.3,85.0 L65.8,103.0" fill="none" stroke="#f7f3f7" stroke-width="1.5" stroke-linejoin="round" stroke-linecap="round"/>
<path d="M94.0,85.0 L99.5,85.0 L99.5,89.5 L97.0,87.6 Z" fill="#f7f3f7" fill-rule="evenodd"/>
<path d="M34.3,84.0 L41.5,84.0 Q44.0,84.0 44.0,86.5 L44.0,92.7 Q44.0,95.2 41.5,95.2 L34.3,95.2 Q31.8,95.2 31.8,92.7 L31.8,86.5 Q31.8,84.0 34.3,84.0 Z" fill="#bc8cca" stroke="#8c58ac" stroke-width="1.6"/>
<path d="M47.4,93.5 L48.8,92.0 L52.0,91.6 L60.0,92.0 L62.6,93.0 L63.8,96.0 L63.8,104.0 L62.8,109.5 L60.0,114.0 L56.5,116.0 L53.8,115.2 L51.0,112.0 L48.6,107.5 L47.8,103.0 Z" fill="#bc8cca" stroke="#8c58ac" stroke-width="1.6"/>
<path d="M33.4,104.5 L34.2,102.4 L36.5,102.0 L43.8,102.0 L45.6,103.0 L46.2,106.0 L46.2,126.0 L33.4,126.0 Z" fill="#bc8cca" stroke="#8c58ac" stroke-width="1.6"/>
<path d="M49.6,83.0 L52.6,83.0 Q54.6,83.0 54.6,85.0 L54.6,85.2 Q54.6,87.2 52.6,87.2 L49.6,87.2 Q47.6,87.2 47.6,85.2 L47.6,85.0 Q47.6,83.0 49.6,83.0 Z" fill="#bc8cca" stroke="#8c58ac" stroke-width="1.6"/>
<path d="M59.9,83.0 L62.9,83.0 Q65.4,83.0 65.4,85.5 L65.4,86.3 Q65.4,88.8 62.9,88.8 L59.9,88.8 Q57.4,88.8 57.4,86.3 L57.4,85.5 Q57.4,83.0 59.9,83.0 Z" fill="#bc8cca" stroke="#8c58ac" stroke-width="1.6"/>
<path d="M27.0,85.0 L30.0,85.0 L30.2,95.0 L29.8,112.0 L27.0,112.0 Z" fill="#bc8cca" stroke="#8c58ac" stroke-width="1.6"/>
<rect x="28.0" y="86.1" width="70.90" height="58.10" filter="url(#tD)" opacity="0.55" mask="url(#mk4)"/>
<rect x="28.0" y="86.1" width="70.90" height="58.10" filter="url(#tL)" opacity="0.6" mask="url(#mk4)"/>
</g>
<text x="73.70" y="139.30" font-size="7.6" fill="#141414" textLength="22.00" lengthAdjust="spacingAndGlyphs" >100&#956;M</text>
<line x1="78.90" y1="141.90" x2="96.10" y2="141.90" stroke="#3a3a3a" stroke-width="1.1" />
<g clip-path="url(#cl5)">
<rect x="106.00" y="86.10" width="70.50" height="58.10" fill="#c088c8" />
<ellipse cx="102.7" cy="142.1" rx="3.95" ry="3.57" fill="#8a50aa"/><ellipse cx="102.7" cy="142.1" rx="1.98" ry="1.78" fill="#e2d4ea"/>
<ellipse cx="102.6" cy="120.4" rx="4.62" ry="4.10" fill="#8a50aa"/><ellipse cx="102.6" cy="120.4" rx="2.31" ry="2.05" fill="#e2d4ea"/>
<ellipse cx="107.9" cy="130.5" rx="4.23" ry="4.07" fill="#8a50aa"/><ellipse cx="107.9" cy="130.5" rx="2.11" ry="2.04" fill="#e2d4ea"/>
<ellipse cx="110.5" cy="137.5" rx="3.87" ry="4.12" fill="#8a50aa"/><ellipse cx="110.5" cy="137.5" rx="1.93" ry="2.06" fill="#e2d4ea"/>
<ellipse cx="115.7" cy="146.7" rx="4.42" ry="3.71" fill="#8a50aa"/><ellipse cx="115.7" cy="146.7" rx="2.21" ry="1.85" fill="#e2d4ea"/>
<ellipse cx="104.3" cy="100.8" rx="4.28" ry="4.75" fill="#8a50aa"/><ellipse cx="104.3" cy="100.8" rx="2.14" ry="2.37" fill="#e2d4ea"/>
<ellipse cx="108.7" cy="108.7" rx="3.60" ry="3.55" fill="#8a50aa"/><ellipse cx="108.7" cy="108.7" rx="1.80" ry="1.78" fill="#e2d4ea"/>
<ellipse cx="112.2" cy="117.4" rx="3.58" ry="4.32" fill="#8a50aa"/><ellipse cx="112.2" cy="117.4" rx="1.79" ry="2.16" fill="#e2d4ea"/>
<ellipse cx="115.7" cy="126.4" rx="4.47" ry="3.99" fill="#8a50aa"/><ellipse cx="115.7" cy="126.4" rx="2.23" ry="1.99" fill="#e2d4ea"/>
<ellipse cx="120.8" cy="135.1" rx="4.05" ry="3.55" fill="#8a50aa"/><ellipse cx="120.8" cy="135.1" rx="2.02" ry="1.78" fill="#e2d4ea"/>
<ellipse cx="123.9" cy="143.1" rx="3.85" ry="3.30" fill="#8a50aa"/><ellipse cx="123.9" cy="143.1" rx="1.93" ry="1.65" fill="#e2d4ea"/>
<ellipse cx="109.8" cy="90.0" rx="3.86" ry="4.21" fill="#8a50aa"/><ellipse cx="109.8" cy="90.0" rx="1.93" ry="2.11" fill="#e2d4ea"/>
<ellipse cx="113.7" cy="97.0" rx="3.64" ry="3.30" fill="#8a50aa"/><ellipse cx="113.7" cy="97.0" rx="1.82" ry="1.65" fill="#e2d4ea"/>
<ellipse cx="116.5" cy="105.4" rx="4.42" ry="4.54" fill="#8a50aa"/><ellipse cx="116.5" cy="105.4" rx="2.21" ry="2.27" fill="#e2d4ea"/>
<ellipse cx="120.3" cy="115.3" rx="3.77" ry="4.51" fill="#8a50aa"/><ellipse cx="120.3" cy="115.3" rx="1.88" ry="2.26" fill="#e2d4ea"/>
<ellipse cx="125.9" cy="122.9" rx="4.26" ry="4.35" fill="#8a50aa"/><ellipse cx="125.9" cy="122.9" rx="2.13" ry="2.18" fill="#e2d4ea"/>
<ellipse cx="130.0" cy="132.8" rx="3.66" ry="3.73" fill="#8a50aa"/><ellipse cx="130.0" cy="132.8" rx="1.83" ry="1.87" fill="#e2d4ea"/>
<ellipse cx="132.7" cy="140.1" rx="4.06" ry="3.40" fill="#8a50aa"/><ellipse cx="132.7" cy="140.1" rx="2.03" ry="1.70" fill="#e2d4ea"/>
<ellipse cx="137.1" cy="149.2" rx="3.45" ry="3.71" fill="#8a50aa"/><ellipse cx="137.1" cy="149.2" rx="1.73" ry="1.86" fill="#e2d4ea"/>
<ellipse cx="118.9" cy="86.4" rx="3.81" ry="4.61" fill="#8a50aa"/><ellipse cx="118.9" cy="86.4" rx="1.91" ry="2.31" fill="#e2d4ea"/>
<ellipse cx="121.1" cy="95.4" rx="3.80" ry="4.01" fill="#8a50aa"/><ellipse cx="121.1" cy="95.4" rx="1.90" ry="2.01" fill="#e2d4ea"/>
<ellipse cx="126.9" cy="102.8" rx="3.72" ry="3.46" fill="#8a50aa"/><ellipse cx="126.9" cy="102.8" rx="1.86" ry="1.73" fill="#e2d4ea"/>
<ellipse cx="129.2" cy="111.2" rx="3.36" ry="3.46" fill="#8a50aa"/><ellipse cx="129.2" cy="111.2" rx="1.68" ry="1.73" fill="#e2d4ea"/>
<ellipse cx="133.6" cy="121.0" rx="3.83" ry="3.52" fill="#8a50aa"/><ellipse cx="133.6" cy="121.0" rx="1.91" ry="1.76" fill="#e2d4ea"/>
<ellipse cx="137.7" cy="128.1" rx="3.34" ry="4.01" fill="#8a50aa"/><ellipse cx="137.7" cy="128.1" rx="1.67" ry="2.00" fill="#e2d4ea"/>
<ellipse cx="142.1" cy="137.1" rx="4.40" ry="3.59" fill="#8a50aa"/><ellipse cx="142.1" cy="137.1" rx="2.20" ry="1.80" fill="#e2d4ea"/>
<ellipse cx="146.6" cy="146.2" rx="4.32" ry="3.89" fill="#8a50aa"/><ellipse cx="146.6" cy="146.2" rx="2.16" ry="1.94" fill="#e2d4ea"/>
<ellipse cx="126.9" cy="82.6" rx="4.88" ry="4.43" fill="#8a50aa"/><ellipse cx="126.9" cy="82.6" rx="2.44" ry="2.21" fill="#e2d4ea"/>
<ellipse cx="130.5" cy="92.6" rx="3.71" ry="3.37" fill="#8a50aa"/><ellipse cx="130.5" cy="92.6" rx="1.85" ry="1.69" fill="#e2d4ea"/>
<ellipse cx="134.8" cy="100.2" rx="3.71" ry="4.00" fill="#8a50aa"/><ellipse cx="134.8" cy="100.2" rx="1.85" ry="2.00" fill="#e2d4ea"/>
<ellipse cx="138.0" cy="108.4" rx="3.57" ry="3.25" fill="#8a50aa"/><ellipse cx="138.0" cy="108.4" rx="1.79" ry="1.63" fill="#e2d4ea"/>
<ellipse cx="142.0" cy="117.1" rx="3.86" ry="3.81" fill="#8a50aa"/><ellipse cx="142.0" cy="117.1" rx="1.93" ry="1.90" fill="#e2d4ea"/>
<ellipse cx="147.5" cy="126.4" rx="4.56" ry="4.06" fill="#8a50aa"/><ellipse cx="147.5" cy="126.4" rx="2.28" ry="2.03" fill="#e2d4ea"/>
<ellipse cx="150.7" cy="135.7" rx="3.91" ry="3.84" fill="#8a50aa"/><ellipse cx="150.7" cy="135.7" rx="1.96" ry="1.92" fill="#e2d4ea"/>
<ellipse cx="154.1" cy="144.0" rx="4.45" ry="4.57" fill="#8a50aa"/><ellipse cx="154.1" cy="144.0" rx="2.23" ry="2.28" fill="#e2d4ea"/>
<ellipse cx="140.1" cy="89.0" rx="3.85" ry="3.42" fill="#8a50aa"/><ellipse cx="140.1" cy="89.0" rx="1.93" ry="1.71" fill="#e2d4ea"/>
<ellipse cx="143.1" cy="96.8" rx="3.88" ry="4.43" fill="#8a50aa"/><ellipse cx="143.1" cy="96.8" rx="1.94" ry="2.22" fill="#e2d4ea"/>
<ellipse cx="149.0" cy="105.9" rx="3.88" ry="4.08" fill="#8a50aa"/><ellipse cx="149.0" cy="105.9" rx="1.94" ry="2.04" fill="#e2d4ea"/>
<ellipse cx="152.5" cy="114.7" rx="3.69" ry="3.76" fill="#8a50aa"/><ellipse cx="152.5" cy="114.7" rx="1.85" ry="1.88" fill="#e2d4ea"/>
<ellipse cx="155.5" cy="123.6" rx="3.90" ry="3.38" fill="#8a50aa"/><ellipse cx="155.5" cy="123.6" rx="1.95" ry="1.69" fill="#e2d4ea"/>
<ellipse cx="159.1" cy="131.2" rx="4.33" ry="4.32" fill="#8a50aa"/><ellipse cx="159.1" cy="131.2" rx="2.17" ry="2.16" fill="#e2d4ea"/>
<ellipse cx="163.6" cy="140.3" rx="3.94" ry="3.60" fill="#8a50aa"/><ellipse cx="163.6" cy="140.3" rx="1.97" ry="1.80" fill="#e2d4ea"/>
<ellipse cx="168.8" cy="148.3" rx="4.86" ry="3.87" fill="#8a50aa"/><ellipse cx="168.8" cy="148.3" rx="2.43" ry="1.94" fill="#e2d4ea"/>
<ellipse cx="148.6" cy="85.0" rx="3.70" ry="4.19" fill="#8a50aa"/><ellipse cx="148.6" cy="85.0" rx="1.85" ry="2.10" fill="#e2d4ea"/>
<ellipse cx="152.0" cy="94.8" rx="3.88" ry="4.72" fill="#8a50aa"/><ellipse cx="152.0" cy="94.8" rx="1.94" ry="2.36" fill="#e2d4ea"/>
<ellipse cx="157.4" cy="103.7" rx="3.71" ry="3.73" fill="#8a50aa"/><ellipse cx="157.4" cy="103.7" rx="1.85" ry="1.86" fill="#e2d4ea"/>
<ellipse cx="162.0" cy="111.7" rx="3.82" ry="3.67" fill="#8a50aa"/><ellipse cx="162.0" cy="111.7" rx="1.91" ry="1.84" fill="#e2d4ea"/>
<ellipse cx="164.1" cy="119.3" rx="4.05" ry="4.73" fill="#8a50aa"/><ellipse cx="164.1" cy="119.3" rx="2.02" ry="2.36" fill="#e2d4ea"/>
<ellipse cx="168.5" cy="128.2" rx="3.70" ry="3.88" fill="#8a50aa"/><ellipse cx="168.5" cy="128.2" rx="1.85" ry="1.94" fill="#e2d4ea"/>
<ellipse cx="173.9" cy="138.1" rx="4.39" ry="4.68" fill="#8a50aa"/><ellipse cx="173.9" cy="138.1" rx="2.19" ry="2.34" fill="#e2d4ea"/>
<ellipse cx="177.9" cy="146.0" rx="3.72" ry="4.41" fill="#8a50aa"/><ellipse cx="177.9" cy="146.0" rx="1.86" ry="2.21" fill="#e2d4ea"/>
<ellipse cx="159.0" cy="82.6" rx="3.42" ry="3.33" fill="#8a50aa"/><ellipse cx="159.0" cy="82.6" rx="1.71" ry="1.67" fill="#e2d4ea"/>
<ellipse cx="161.7" cy="90.5" rx="3.56" ry="3.85" fill="#8a50aa"/><ellipse cx="161.7" cy="90.5" rx="1.78" ry="1.92" fill="#e2d4ea"/>
<ellipse cx="166.8" cy="100.4" rx="3.84" ry="3.95" fill="#8a50aa"/><ellipse cx="166.8" cy="100.4" rx="1.92" ry="1.97" fill="#e2d4ea"/>
<ellipse cx="169.8" cy="108.2" rx="3.44" ry="4.05" fill="#8a50aa"/><ellipse cx="169.8" cy="108.2" rx="1.72" ry="2.03" fill="#e2d4ea"/>
<ellipse cx="173.3" cy="117.1" rx="4.47" ry="3.82" fill="#8a50aa"/><ellipse cx="173.3" cy="117.1" rx="2.23" ry="1.91" fill="#e2d4ea"/>
<ellipse cx="177.5" cy="125.2" rx="3.86" ry="4.35" fill="#8a50aa"/><ellipse cx="177.5" cy="125.2" rx="1.93" ry="2.17" fill="#e2d4ea"/>
<ellipse cx="170.6" cy="87.6" rx="3.92" ry="3.98" fill="#8a50aa"/><ellipse cx="170.6" cy="87.6" rx="1.96" ry="1.99" fill="#e2d4ea"/>
<ellipse cx="174.2" cy="96.0" rx="4.10" ry="3.91" fill="#8a50aa"/><ellipse cx="174.2" cy="96.0" rx="2.05" ry="1.95" fill="#e2d4ea"/>
<ellipse cx="178.4" cy="105.7" rx="3.42" ry="3.56" fill="#8a50aa"/><ellipse cx="178.4" cy="105.7" rx="1.71" ry="1.78" fill="#e2d4ea"/>
<ellipse cx="180.0" cy="84.7" rx="3.69" ry="3.92" fill="#8a50aa"/><ellipse cx="180.0" cy="84.7" rx="1.85" ry="1.96" fill="#e2d4ea"/>
<path d="M119.7,145.2 L133.3,121.5 L147.0,109.19999999999999 L160.6,98.3 L174.3,88.69999999999999 L178.5,86.1" stroke="#e4a8d4" stroke-width="2.4" fill="none"/>
<path d="M105.0,116.1 L114.2,111.3 L122.4,105.1 L130.6,98.3 L138.8,91.5 L146.0,85.6" fill="none" stroke="#f7f3f7" stroke-width="1.9" stroke-linejoin="round" stroke-linecap="round"/>
<path d="M158.0,119.4 L165.6,122.5 L166.9,125.6 L165.6,127.5 L163.8,131.3 L166.3,132.5 L173.8,131.9 L177.5,131.3 L177.5,117.5 L170.0,118.2 L165.6,119.0 Z" fill="#f7f3f7" fill-rule="evenodd"/>
<rect x="106.0" y="86.1" width="70.50" height="58.10" filter="url(#tD)" opacity="0.55" mask="url(#mk5)"/>
<rect x="106.0" y="86.1" width="70.50" height="58.10" filter="url(#tL)" opacity="0.6" mask="url(#mk5)"/>
</g>
<text x="151.30" y="139.30" font-size="7.6" fill="#141414" textLength="22.00" lengthAdjust="spacingAndGlyphs" >100&#956;M</text>
<line x1="156.50" y1="141.90" x2="173.70" y2="141.90" stroke="#3a3a3a" stroke-width="1.1" />
<g clip-path="url(#cl6)">
<rect x="183.00" y="86.10" width="71.00" height="58.10" fill="#dc9ed4" />
<path d="M214.9,116.6 Q216.8,117 218.4,121 Q219.2,125.5 218.1,126.3 Q216.2,124.5 215.0,121.5 Q214.4,118 214.9,116.6 Z" fill="#f8f6f8" fill-rule="evenodd"/>
<rect x="183.0" y="86.1" width="71.00" height="58.10" filter="url(#lvL)" opacity="0.8" mask="url(#mk6)"/>
<rect x="183.0" y="86.1" width="71.00" height="58.10" filter="url(#lvD)" opacity="0.85" mask="url(#mk6)"/>
<rect x="183.0" y="86.1" width="71.00" height="58.10" filter="url(#tD)" opacity="0.25" mask="url(#mk6)"/>
</g>
<text x="228.80" y="139.30" font-size="7.6" fill="#141414" textLength="22.00" lengthAdjust="spacingAndGlyphs" >100&#956;M</text>
<line x1="234.00" y1="141.90" x2="251.20" y2="141.90" stroke="#3a3a3a" stroke-width="1.1" />
<g clip-path="url(#cl7)">
<rect x="259.80" y="86.10" width="70.40" height="58.10" fill="#f4eff4" />
<path d="M259.8,86.1 L330.2,86.1 L330.2,86.4 L259.8,89.1 Z" fill="#e4b2d8"/>
<path d="M259.8,88.5 L300.0,85.6 L320.0,85.1 L330.2,85.1 L330.2,86.3 L320.0,87.3 L300.0,92.3 L279.5,97.8 L259.8,103.2 Z" fill="#9e5cb2"/>
<path d="M259.8,103.8 L279.5,98.4 L300,92.9 L320,87.6 L330.2,85.2" stroke="#d890c8" stroke-width="1.6" fill="none"/>
<path d="M258.8,118.8 L265.8,114.6 L272.7,113.3 L286.3,109.2 L300.0,105.1 L313.6,101.0 L330.2,96.9 L330.2,124.2 L313.6,131.1 L300.0,136.5 L286.3,140.6 L279.5,137.9 L272.7,142.0 L259.8,143.2 Z" fill="#e8b6da"/>
<path d="M265.8,115.1 L286.3,109.6 L313.6,101.6 L330.2,97.6 L330.2,104.1 L309.8,109.1 L286.3,115.1 L267.8,120.1 Z" fill="#c890c8" opacity="0.5"/>
<path d="M259.8,120.1 L264.8,119.1 L265.8,140.2 L259.8,141.2 Z" fill="#f0e4ee" opacity="0.7"/>
<path d="M259.8,142.7 L272.7,141.3 L279.5,137.2 L286.3,139.9 L300.0,135.8 L313.6,130.4 L330.2,123.6 L330.2,127.7 L313.6,134.2 L300.0,139.7 L286.3,143.7 L279.5,140.7 L272.7,144.7 L259.8,145.2 Z" fill="#7e3a9a"/>
<ellipse cx="325.8" cy="113.1" rx="2.6" ry="3.4" fill="none" stroke="#9a5ab0" stroke-width="1.1"/>
<path d="M261.8,92.7 a1.9,1.9 0 1,0 3.8,0 a1.9,1.9 0 1,0 -3.8,0 M267.0,91.1 a1.9,1.9 0 1,0 3.8,0 a1.9,1.9 0 1,0 -3.8,0 M274.0,90.3 a2.0,2.0 0 1,0 4.0,0 a2.0,2.0 0 1,0 -4.0,0 M280.0,89.2 a1.9,1.9 0 1,0 3.8,0 a1.9,1.9 0 1,0 -3.8,0 M284.8,88.4 a1.8,1.8 0 1,0 3.6,0 a1.8,1.8 0 1,0 -3.6,0 M289.5,87.6 a1.8,1.8 0 1,0 3.6,0 a1.8,1.8 0 1,0 -3.6,0 M294.4,86.9 a1.6,1.6 0 1,0 3.2,0 a1.6,1.6 0 1,0 -3.2,0 M299.0,86.3 a1.5,1.5 0 1,0 3.0,0 a1.5,1.5 0 1,0 -3.0,0 M303.7,86.0 a1.3,1.3 0 1,0 2.6,0 a1.3,1.3 0 1,0 -2.6,0 M261.7,97.8 a2.0,2.0 0 1,0 4.0,0 a2.0,2.0 0 1,0 -4.0,0 M265.9,95.5 a1.8,1.8 0 1,0 3.6,0 a1.8,1.8 0 1,0 -3.6,0 M270.2,93.9 a1.7,1.7 0 1,0 3.4,0 a1.7,1.7 0 1,0 -3.4,0 M273.1,95.5 a1.7,1.7 0 1,0 3.4,0 a1.7,1.7 0 1,0 -3.4,0 M277.0,93.9 a1.7,1.7 0 1,0 3.4,0 a1.7,1.7 0 1,0 -3.4,0 M279.9,93.1 a1.6,1.6 0 1,0 3.2,0 a1.6,1.6 0 1,0 -3.2,0 M283.3,91.1 a1.7,1.7 0 1,0 3.4,0 a1.7,1.7 0 1,0 -3.4,0 M288.1,89.9 a1.6,1.6 0 1,0 3.2,0 a1.6,1.6 0 1,0 -3.2,0 M292.5,88.9 a1.5,1.5 0 1,0 3.0,0 a1.5,1.5 0 1,0 -3.0,0 M296.7,88.0 a1.3,1.3 0 1,0 2.6,0 a1.3,1.3 0 1,0 -2.6,0 M259.3,95.5 a1.2,1.2 0 1,0 2.4,0 a1.2,1.2 0 1,0 -2.4,0 " fill="#f7f3f7" fill-rule="evenodd"/>
<path d="M258.8,104.6 L279.5,99.2 L300.0,93.7 L320.0,88.4 L331.2,86.0 L331.2,96.4 L313.6,100.5 L300.0,104.6 L286.3,108.7 L272.7,112.8 L265.8,114.1 L258.8,118.3 Z" fill="#f7f3f7" fill-rule="evenodd"/>
<path d="M299.8,141.2 L313.6,135.7 L331.2,129.2 L331.2,145.2 L295.8,145.2 Z" fill="#f7f3f7" fill-rule="evenodd"/>
<rect x="259.8" y="86.1" width="70.40" height="58.10" filter="url(#tD)" opacity="0.42" mask="url(#mk7)"/>
<rect x="259.8" y="86.1" width="70.40" height="58.10" filter="url(#tL)" opacity="0.5" mask="url(#mk7)"/>
<path d="M263.8,114.1 L330.2,94.1 M269.8,110.1 L320.2,92.1" stroke="#e8d8e8" stroke-width="0.8" opacity="0.7"/>
<path d="M261.8,117.1 Q279.8,112.1 299.8,106.1" stroke="#d8a8d0" stroke-width="1.2" fill="none" opacity="0.7"/>
<circle cx="290.4" cy="117.0" r="1.5" fill="#3a1860"/>
</g>
<text x="305.00" y="139.30" font-size="7.6" fill="#141414" textLength="22.00" lengthAdjust="spacingAndGlyphs" >100&#956;M</text>
<line x1="310.20" y1="141.90" x2="327.40" y2="141.90" stroke="#3a3a3a" stroke-width="1.1" />
<text x="337.80" y="17.30" font-size="11.4" fill="#000" font-weight="bold" >B</text>
<text x="393.80" y="20.50" font-size="9.3" textLength="88.50" lengthAdjust="spacingAndGlyphs" >Day 14 GVHD scores</text>
<circle cx="368.20" cy="27.00" r="1.70" fill="#0f4c8c"/>
<text x="372.70" y="29.80" font-size="8.5" textLength="12.00" lengthAdjust="spacingAndGlyphs" >WT</text>
<rect x="366.80" y="34.00" width="3.40" height="3.00" fill="#c8102e" />
<text x="372.70" y="37.70" font-size="8.5" textLength="12.00" lengthAdjust="spacingAndGlyphs" >KO</text>
<line x1="361.40" y1="35.60" x2="361.40" y2="55.80" stroke="#0a0a0a" stroke-width="1.25" />
<line x1="359.60" y1="55.80" x2="363.60" y2="55.80" stroke="#0a0a0a" stroke-width="1.25" />
<line x1="361.40" y1="61.80" x2="361.40" y2="120.80" stroke="#0a0a0a" stroke-width="1.25" />
<line x1="359.60" y1="61.80" x2="363.60" y2="61.80" stroke="#0a0a0a" stroke-width="1.25" />
<line x1="358.40" y1="36.00" x2="361.40" y2="36.00" stroke="#0a0a0a" stroke-width="1.25" />
<text x="356.80" y="39.20" font-size="8.8" text-anchor="end" >40</text>
<line x1="358.40" y1="49.40" x2="361.40" y2="49.40" stroke="#0a0a0a" stroke-width="1.25" />
<text x="356.80" y="52.60" font-size="8.8" text-anchor="end" >20</text>
<line x1="358.40" y1="61.80" x2="361.40" y2="61.80" stroke="#0a0a0a" stroke-width="1.25" />
<text x="356.80" y="65.00" font-size="8.8" text-anchor="end" >10</text>
<line x1="358.40" y1="73.60" x2="361.40" y2="73.60" stroke="#0a0a0a" stroke-width="1.25" />
<text x="356.80" y="76.80" font-size="8.8" text-anchor="end" >8</text>
<line x1="358.40" y1="85.40" x2="361.40" y2="85.40" stroke="#0a0a0a" stroke-width="1.25" />
<text x="356.80" y="88.60" font-size="8.8" text-anchor="end" >6</text>
<line x1="358.40" y1="97.20" x2="361.40" y2="97.20" stroke="#0a0a0a" stroke-width="1.25" />
<text x="356.80" y="100.40" font-size="8.8" text-anchor="end" >4</text>
<line x1="358.40" y1="109.00" x2="361.40" y2="109.00" stroke="#0a0a0a" stroke-width="1.25" />
<text x="356.80" y="112.20" font-size="8.8" text-anchor="end" >2</text>
<line x1="358.40" y1="120.80" x2="361.40" y2="120.80" stroke="#0a0a0a" stroke-width="1.25" />
<text x="356.80" y="124.00" font-size="8.8" text-anchor="end" >0</text>
<line x1="361.40" y1="120.80" x2="513.30" y2="120.80" stroke="#0a0a0a" stroke-width="1.25" />
<line x1="375.20" y1="120.80" x2="375.20" y2="123.20" stroke="#0a0a0a" stroke-width="1.25" />
<text x="375.20" y="131.60" font-size="8.2" text-anchor="middle" >SI</text>
<line x1="406.10" y1="120.80" x2="406.10" y2="123.20" stroke="#0a0a0a" stroke-width="1.25" />
<text x="406.10" y="131.60" font-size="8.2" text-anchor="middle" >Colon</text>
<line x1="437.20" y1="120.80" x2="437.20" y2="123.20" stroke="#0a0a0a" stroke-width="1.25" />
<text x="437.20" y="131.60" font-size="8.2" text-anchor="middle" >Liver</text>
<line x1="468.20" y1="120.80" x2="468.20" y2="123.20" stroke="#0a0a0a" stroke-width="1.25" />
<text x="468.20" y="131.60" font-size="8.2" text-anchor="middle" >Skin</text>
<line x1="499.20" y1="120.80" x2="499.20" y2="123.20" stroke="#0a0a0a" stroke-width="1.25" />
<text x="499.20" y="131.60" font-size="8.2" text-anchor="middle" >Total</text>
<rect x="365.60" y="89.00" width="7.60" height="31.80" fill="#0f4c8c" fill-opacity="0.5" stroke="#0f4c8c" stroke-opacity="0.25" stroke-width="0.8"/>
<rect x="377.20" y="102.90" width="7.60" height="17.90" fill="#c8102e" fill-opacity="0.5" stroke="#c8102e" stroke-opacity="0.25" stroke-width="0.8"/>
<rect x="396.50" y="76.90" width="7.60" height="43.90" fill="#0f4c8c" fill-opacity="0.5" stroke="#0f4c8c" stroke-opacity="0.25" stroke-width="0.8"/>
<rect x="408.10" y="103.10" width="7.60" height="17.70" fill="#c8102e" fill-opacity="0.5" stroke="#c8102e" stroke-opacity="0.25" stroke-width="0.8"/>
<rect x="427.60" y="73.80" width="7.60" height="47.00" fill="#0f4c8c" fill-opacity="0.5" stroke="#0f4c8c" stroke-opacity="0.25" stroke-width="0.8"/>
<rect x="439.20" y="99.80" width="7.60" height="21.00" fill="#c8102e" fill-opacity="0.5" stroke="#c8102e" stroke-opacity="0.25" stroke-width="0.8"/>
<rect x="458.60" y="79.60" width="7.60" height="41.20" fill="#0f4c8c" fill-opacity="0.5" stroke="#0f4c8c" stroke-opacity="0.25" stroke-width="0.8"/>
<rect x="470.20" y="91.00" width="7.60" height="29.80" fill="#c8102e" fill-opacity="0.5" stroke="#c8102e" stroke-opacity="0.25" stroke-width="0.8"/>
<rect x="489.60" y="45.00" width="7.60" height="75.80" fill="#0f4c8c" fill-opacity="0.5" stroke="#0f4c8c" stroke-opacity="0.25" stroke-width="0.8"/>
<rect x="501.20" y="51.70" width="7.60" height="69.10" fill="#c8102e" fill-opacity="0.5" stroke="#c8102e" stroke-opacity="0.25" stroke-width="0.8"/>
<line x1="369.30" y1="82.50" x2="369.30" y2="94.80" stroke="#0f4c8c" stroke-width="0.9" />
<line x1="367.50" y1="82.50" x2="371.10" y2="82.50" stroke="#0f4c8c" stroke-width="0.9" />
<line x1="367.50" y1="94.80" x2="371.10" y2="94.80" stroke="#0f4c8c" stroke-width="0.9" />
<circle cx="369.30" cy="79.50" r="1.90" fill="#0f4c8c"/>
<circle cx="367.20" cy="85.50" r="1.90" fill="#0f4c8c"/>
<circle cx="371.50" cy="85.50" r="1.90" fill="#0f4c8c"/>
<circle cx="365.80" cy="91.30" r="1.90" fill="#0f4c8c"/>
<circle cx="369.30" cy="91.30" r="1.90" fill="#0f4c8c"/>
<circle cx="371.30" cy="91.30" r="1.90" fill="#0f4c8c"/>
<circle cx="369.30" cy="97.20" r="1.90" fill="#0f4c8c"/>
<line x1="381.00" y1="100.50" x2="381.00" y2="103.00" stroke="#c8102e" stroke-width="0.9" />
<line x1="379.20" y1="100.50" x2="382.80" y2="100.50" stroke="#c8102e" stroke-width="0.9" />
<line x1="379.20" y1="103.00" x2="382.80" y2="103.00" stroke="#c8102e" stroke-width="0.9" />
<rect x="379.10" y="95.40" width="3.80" height="3.80" fill="#c8102e" />
<rect x="376.70" y="101.20" width="3.80" height="3.80" fill="#c8102e" />
<rect x="379.10" y="101.20" width="3.80" height="3.80" fill="#c8102e" />
<rect x="381.50" y="101.20" width="3.80" height="3.80" fill="#c8102e" />
<rect x="378.10" y="101.20" width="3.80" height="3.80" fill="#c8102e" />
<rect x="380.10" y="101.20" width="3.80" height="3.80" fill="#c8102e" />
<line x1="400.30" y1="71.00" x2="400.30" y2="83.00" stroke="#0f4c8c" stroke-width="0.9" />
<line x1="398.50" y1="71.00" x2="402.10" y2="71.00" stroke="#0f4c8c" stroke-width="0.9" />
<line x1="398.50" y1="83.00" x2="402.10" y2="83.00" stroke="#0f4c8c" stroke-width="0.9" />
<circle cx="400.30" cy="67.80" r="1.90" fill="#0f4c8c"/>
<circle cx="397.80" cy="73.60" r="1.90" fill="#0f4c8c"/>
<circle cx="402.80" cy="73.60" r="1.90" fill="#0f4c8c"/>
<circle cx="398.50" cy="79.50" r="1.90" fill="#0f4c8c"/>
<circle cx="402.00" cy="79.50" r="1.90" fill="#0f4c8c"/>
<circle cx="400.30" cy="85.40" r="1.90" fill="#0f4c8c"/>
<line x1="412.00" y1="91.30" x2="412.00" y2="103.00" stroke="#c8102e" stroke-width="0.9" />
<line x1="410.20" y1="91.30" x2="413.80" y2="91.30" stroke="#c8102e" stroke-width="0.9" />
<line x1="410.20" y1="103.00" x2="413.80" y2="103.00" stroke="#c8102e" stroke-width="0.9" />
<rect x="410.10" y="77.60" width="3.80" height="3.80" fill="#c8102e" />
<rect x="407.80" y="101.20" width="3.80" height="3.80" fill="#c8102e" />
<rect x="410.10" y="101.20" width="3.80" height="3.80" fill="#c8102e" />
<rect x="412.50" y="101.20" width="3.80" height="3.80" fill="#c8102e" />
<rect x="407.80" y="107.10" width="3.80" height="3.80" fill="#c8102e" />
<rect x="410.10" y="107.10" width="3.80" height="3.80" fill="#c8102e" />
<rect x="412.50" y="107.10" width="3.80" height="3.80" fill="#c8102e" />
<line x1="431.40" y1="62.00" x2="431.40" y2="85.00" stroke="#0f4c8c" stroke-width="0.9" />
<line x1="429.60" y1="62.00" x2="433.20" y2="62.00" stroke="#0f4c8c" stroke-width="0.9" />
<line x1="429.60" y1="85.00" x2="433.20" y2="85.00" stroke="#0f4c8c" stroke-width="0.9" />
<circle cx="431.40" cy="56.50" r="1.90" fill="#0f4c8c"/>
<circle cx="431.40" cy="61.80" r="1.90" fill="#0f4c8c"/>
<circle cx="431.40" cy="67.70" r="1.90" fill="#0f4c8c"/>
<circle cx="429.40" cy="67.70" r="1.90" fill="#0f4c8c"/>
<circle cx="433.40" cy="67.70" r="1.90" fill="#0f4c8c"/>
<circle cx="429.60" cy="85.40" r="1.90" fill="#0f4c8c"/>
<circle cx="433.20" cy="85.40" r="1.90" fill="#0f4c8c"/>
<circle cx="431.40" cy="91.30" r="1.90" fill="#0f4c8c"/>
<line x1="443.00" y1="92.00" x2="443.00" y2="103.00" stroke="#c8102e" stroke-width="0.9" />
<line x1="441.20" y1="92.00" x2="444.80" y2="92.00" stroke="#c8102e" stroke-width="0.9" />
<line x1="441.20" y1="103.00" x2="444.80" y2="103.00" stroke="#c8102e" stroke-width="0.9" />
<rect x="438.90" y="89.30" width="3.80" height="3.80" fill="#c8102e" />
<rect x="443.30" y="89.30" width="3.80" height="3.80" fill="#c8102e" />
<rect x="441.10" y="95.20" width="3.80" height="3.80" fill="#c8102e" />
<rect x="441.10" y="101.10" width="3.80" height="3.80" fill="#c8102e" />
<rect x="439.60" y="101.10" width="3.80" height="3.80" fill="#c8102e" />
<rect x="442.60" y="101.10" width="3.80" height="3.80" fill="#c8102e" />
<rect x="441.10" y="107.00" width="3.80" height="3.80" fill="#c8102e" />
<circle cx="460.30" cy="79.50" r="1.90" fill="#0f4c8c"/>
<circle cx="462.40" cy="79.50" r="1.90" fill="#0f4c8c"/>
<circle cx="464.50" cy="79.50" r="1.90" fill="#0f4c8c"/>
<circle cx="463.00" cy="85.40" r="1.90" fill="#0f4c8c"/>
<line x1="474.10" y1="88.50" x2="474.10" y2="91.50" stroke="#c8102e" stroke-width="0.9" />
<line x1="472.30" y1="88.50" x2="475.90" y2="88.50" stroke="#c8102e" stroke-width="0.9" />
<line x1="472.30" y1="91.50" x2="475.90" y2="91.50" stroke="#c8102e" stroke-width="0.9" />
<rect x="472.20" y="83.30" width="3.80" height="3.80" fill="#c8102e" />
<rect x="469.90" y="89.20" width="3.80" height="3.80" fill="#c8102e" />
<rect x="472.20" y="89.20" width="3.80" height="3.80" fill="#c8102e" />
<rect x="474.50" y="89.20" width="3.80" height="3.80" fill="#c8102e" />
<circle cx="493.40" cy="45.00" r="1.90" fill="#0f4c8c"/>
<circle cx="491.80" cy="44.50" r="1.90" fill="#0f4c8c"/>
<circle cx="495.20" cy="44.50" r="1.90" fill="#0f4c8c"/>
<circle cx="494.50" cy="41.50" r="1.90" fill="#0f4c8c"/>
<circle cx="496.50" cy="44.50" r="1.90" fill="#0f4c8c"/>
<circle cx="490.80" cy="45.50" r="1.90" fill="#0f4c8c"/>
<rect x="503.00" y="48.50" width="4.00" height="4.00" fill="#c8102e" />
<rect x="503.00" y="51.00" width="4.00" height="4.00" fill="#c8102e" />
<rect x="501.50" y="49.50" width="4.00" height="4.00" fill="#c8102e" />
<rect x="504.50" y="49.50" width="4.00" height="4.00" fill="#c8102e" />
<line x1="369.80" y1="51.50" x2="381.50" y2="51.50" stroke="#0a0a0a" stroke-width="1.1" />
<path d="M373.95,46.60L373.95,48.80M373.00,47.15L374.90,48.25M373.00,48.25L374.90,47.15" stroke="#111" stroke-width="0.9" stroke-linecap="round"/>
<path d="M377.35,46.60L377.35,48.80M376.40,47.15L378.30,48.25M376.40,48.25L378.30,47.15" stroke="#111" stroke-width="0.9" stroke-linecap="round"/>
<line x1="400.30" y1="51.50" x2="412.00" y2="51.50" stroke="#0a0a0a" stroke-width="1.1" />
<path d="M404.45,46.60L404.45,48.80M403.50,47.15L405.40,48.25M403.50,48.25L405.40,47.15" stroke="#111" stroke-width="0.9" stroke-linecap="round"/>
<path d="M407.85,46.60L407.85,48.80M406.90,47.15L408.80,48.25M406.90,48.25L408.80,47.15" stroke="#111" stroke-width="0.9" stroke-linecap="round"/>
<line x1="431.00" y1="51.50" x2="443.50" y2="51.50" stroke="#0a0a0a" stroke-width="1.1" />
<path d="M435.55,46.60L435.55,48.80M434.60,47.15L436.50,48.25M434.60,48.25L436.50,47.15" stroke="#111" stroke-width="0.9" stroke-linecap="round"/>
<path d="M438.95,46.60L438.95,48.80M438.00,47.15L439.90,48.25M438.00,48.25L439.90,47.15" stroke="#111" stroke-width="0.9" stroke-linecap="round"/>
<line x1="462.30" y1="51.50" x2="474.20" y2="51.50" stroke="#0a0a0a" stroke-width="1.1" />
<path d="M466.55,46.60L466.55,48.80M465.60,47.15L467.50,48.25M465.60,48.25L467.50,47.15" stroke="#111" stroke-width="0.9" stroke-linecap="round"/>
<path d="M469.95,46.60L469.95,48.80M469.00,47.15L470.90,48.25M469.00,48.25L470.90,47.15" stroke="#111" stroke-width="0.9" stroke-linecap="round"/>
<line x1="493.00" y1="35.40" x2="504.60" y2="35.40" stroke="#0a0a0a" stroke-width="1.1" />
<path d="M495.40,30.50L495.40,32.70M494.45,31.05L496.35,32.15M494.45,32.15L496.35,31.05" stroke="#111" stroke-width="0.9" stroke-linecap="round"/>
<path d="M498.80,30.50L498.80,32.70M497.85,31.05L499.75,32.15M497.85,32.15L499.75,31.05" stroke="#111" stroke-width="0.9" stroke-linecap="round"/>
<path d="M502.20,30.50L502.20,32.70M501.25,31.05L503.15,32.15M501.25,32.15L503.15,31.05" stroke="#111" stroke-width="0.9" stroke-linecap="round"/>
<text transform="translate(343.60,82.30) rotate(-90)" x="0" y="0" font-size="8.2" text-anchor="middle" textLength="52.00" lengthAdjust="spacingAndGlyphs">Pathology score</text>
<text x="9.80" y="169.00" font-size="11.4" fill="#000" font-weight="bold" >C</text>
<circle cx="46.20" cy="171.40" r="1.90" fill="#0f4c8c"/>
<text x="50.60" y="173.80" font-size="8.0" textLength="11.40" lengthAdjust="spacingAndGlyphs" >WT</text>
<rect x="68.30" y="169.50" width="3.70" height="3.70" fill="#c8102e" />
<text x="75.20" y="173.80" font-size="8.0" textLength="10.80" lengthAdjust="spacingAndGlyphs" >KO</text>
<text x="221.80" y="171.90" font-size="9.3" textLength="24.00" lengthAdjust="spacingAndGlyphs" >Day 7</text>
<line x1="42.70" y1="176.50" x2="425.30" y2="176.50" stroke="#5a5a5a" stroke-width="1.4" />
<line x1="41.00" y1="195.40" x2="41.00" y2="240.20" stroke="#0a0a0a" stroke-width="1.25" />
<line x1="38.40" y1="195.40" x2="41.00" y2="195.40" stroke="#0a0a0a" stroke-width="1.25" />
<text x="36.00" y="198.60" font-size="9.0" text-anchor="end" textLength="17.60" lengthAdjust="spacingAndGlyphs" >1500</text>
<line x1="38.40" y1="210.33" x2="41.00" y2="210.33" stroke="#0a0a0a" stroke-width="1.25" />
<text x="36.00" y="213.53" font-size="9.0" text-anchor="end" textLength="17.60" lengthAdjust="spacingAndGlyphs" >1000</text>
<line x1="38.40" y1="225.27" x2="41.00" y2="225.27" stroke="#0a0a0a" stroke-width="1.25" />
<text x="36.00" y="228.47" font-size="9.0" text-anchor="end" textLength="13.20" lengthAdjust="spacingAndGlyphs" >500</text>
<line x1="38.40" y1="240.20" x2="41.00" y2="240.20" stroke="#0a0a0a" stroke-width="1.25" />
<text x="36.00" y="243.40" font-size="9.0" text-anchor="end" textLength="4.40" lengthAdjust="spacingAndGlyphs" >0</text>
<line x1="41.00" y1="240.20" x2="85.60" y2="240.20" stroke="#0a0a0a" stroke-width="1.25" />
<text x="55.00" y="189.40" font-size="9.7" textLength="18.60" lengthAdjust="spacingAndGlyphs" >IFN&#947;</text>
<rect x="47.70" y="209.20" width="13.00" height="31.00" fill="#0f4c8c" fill-opacity="0.5" stroke="#0f4c8c" stroke-opacity="0.25" stroke-width="0.8"/>
<rect x="67.00" y="223.30" width="12.90" height="16.90" fill="#c8102e" fill-opacity="0.5" stroke="#c8102e" stroke-opacity="0.25" stroke-width="0.8"/>
<line x1="54.20" y1="202.00" x2="54.20" y2="216.20" stroke="#0f4c8c" stroke-width="0.8" />
<line x1="51.90" y1="202.00" x2="56.50" y2="202.00" stroke="#0f4c8c" stroke-width="0.8" />
<line x1="51.90" y1="216.20" x2="56.50" y2="216.20" stroke="#0f4c8c" stroke-width="0.8" />
<line x1="73.45" y1="210.40" x2="73.45" y2="240.00" stroke="#c8102e" stroke-width="0.8" />
<line x1="71.15" y1="210.40" x2="75.75" y2="210.40" stroke="#c8102e" stroke-width="0.8" />
<line x1="71.15" y1="240.00" x2="75.75" y2="240.00" stroke="#c8102e" stroke-width="0.8" />
<circle cx="54.20" cy="202.00" r="0.95" fill="#0f4c8c"/>
<circle cx="52.70" cy="202.50" r="0.95" fill="#0f4c8c"/>
<circle cx="55.70" cy="202.50" r="0.95" fill="#0f4c8c"/>
<circle cx="51.70" cy="205.50" r="0.95" fill="#0f4c8c"/>
<circle cx="54.20" cy="209.00" r="0.95" fill="#0f4c8c"/>
<circle cx="53.20" cy="212.00" r="0.95" fill="#0f4c8c"/>
<circle cx="54.70" cy="215.50" r="0.95" fill="#0f4c8c"/>
<circle cx="54.20" cy="225.80" r="0.95" fill="#0f4c8c"/>
<rect x="72.45" y="200.30" width="2.00" height="2.00" fill="#c8102e" />
<rect x="72.45" y="212.60" width="2.00" height="2.00" fill="#c8102e" />
<rect x="72.45" y="219.80" width="2.00" height="2.00" fill="#c8102e" />
<rect x="72.45" y="225.00" width="2.00" height="2.00" fill="#c8102e" />
<rect x="72.45" y="230.60" width="2.00" height="2.00" fill="#c8102e" />
<rect x="70.95" y="233.80" width="2.00" height="2.00" fill="#c8102e" />
<rect x="73.95" y="234.00" width="2.00" height="2.00" fill="#c8102e" />
<text transform="translate(13.10,217.80) rotate(-90)" x="0" y="0" font-size="9.8" text-anchor="middle" textLength="19.40" lengthAdjust="spacingAndGlyphs">pg/ml</text>
<line x1="58.00" y1="199.60" x2="69.60" y2="199.60" stroke="#0a0a0a" stroke-width="1.1" />
<path d="M62.10,194.70L62.10,196.90M61.15,195.25L63.05,196.35M61.15,196.35L63.05,195.25" stroke="#111" stroke-width="0.9" stroke-linecap="round"/>
<path d="M65.50,194.70L65.50,196.90M64.55,195.25L66.45,196.35M64.55,196.35L66.45,195.25" stroke="#111" stroke-width="0.9" stroke-linecap="round"/>
<line x1="123.20" y1="195.50" x2="123.20" y2="240.40" stroke="#0a0a0a" stroke-width="1.25" />
<line x1="120.60" y1="195.50" x2="123.20" y2="195.50" stroke="#0a0a0a" stroke-width="1.25" />
<text x="118.20" y="198.70" font-size="9.0" text-anchor="end" textLength="8.80" lengthAdjust="spacingAndGlyphs" >60</text>
<line x1="120.60" y1="210.47" x2="123.20" y2="210.47" stroke="#0a0a0a" stroke-width="1.25" />
<text x="118.20" y="213.67" font-size="9.0" text-anchor="end" textLength="8.80" lengthAdjust="spacingAndGlyphs" >40</text>
<line x1="120.60" y1="225.43" x2="123.20" y2="225.43" stroke="#0a0a0a" stroke-width="1.25" />
<text x="118.20" y="228.63" font-size="9.0" text-anchor="end" textLength="8.80" lengthAdjust="spacingAndGlyphs" >20</text>
<line x1="120.60" y1="240.40" x2="123.20" y2="240.40" stroke="#0a0a0a" stroke-width="1.25" />
<text x="118.20" y="243.60" font-size="9.0" text-anchor="end" textLength="4.40" lengthAdjust="spacingAndGlyphs" >0</text>
<line x1="123.20" y1="240.40" x2="170.00" y2="240.40" stroke="#0a0a0a" stroke-width="1.25" />
<text x="135.00" y="190.20" font-size="9.7" textLength="23.80" lengthAdjust="spacingAndGlyphs" >TNF&#945;</text>
<rect x="130.60" y="208.20" width="12.70" height="32.20" fill="#0f4c8c" fill-opacity="0.5" stroke="#0f4c8c" stroke-opacity="0.25" stroke-width="0.8"/>
<rect x="150.70" y="209.00" width="12.90" height="31.40" fill="#c8102e" fill-opacity="0.5" stroke="#c8102e" stroke-opacity="0.25" stroke-width="0.8"/>
<line x1="136.95" y1="200.50" x2="136.95" y2="216.00" stroke="#0f4c8c" stroke-width="0.8" />
<line x1="134.65" y1="200.50" x2="139.25" y2="200.50" stroke="#0f4c8c" stroke-width="0.8" />
<line x1="134.65" y1="216.00" x2="139.25" y2="216.00" stroke="#0f4c8c" stroke-width="0.8" />
<line x1="157.15" y1="204.50" x2="157.15" y2="212.00" stroke="#c8102e" stroke-width="0.8" />
<line x1="154.85" y1="204.50" x2="159.45" y2="204.50" stroke="#c8102e" stroke-width="0.8" />
<line x1="154.85" y1="212.00" x2="159.45" y2="212.00" stroke="#c8102e" stroke-width="0.8" />
<circle cx="138.45" cy="199.00" r="0.95" fill="#0f4c8c"/>
<circle cx="136.95" cy="201.00" r="0.95" fill="#0f4c8c"/>
<circle cx="136.95" cy="206.00" r="0.95" fill="#0f4c8c"/>
<circle cx="135.95" cy="209.00" r="0.95" fill="#0f4c8c"/>
<circle cx="136.95" cy="213.00" r="0.95" fill="#0f4c8c"/>
<circle cx="137.95" cy="216.00" r="0.95" fill="#0f4c8c"/>
<circle cx="136.95" cy="218.00" r="0.95" fill="#0f4c8c"/>
<rect x="156.15" y="201.50" width="2.00" height="2.00" fill="#c8102e" />
<rect x="156.15" y="204.00" width="2.00" height="2.00" fill="#c8102e" />
<rect x="154.65" y="208.00" width="2.00" height="2.00" fill="#c8102e" />
<rect x="157.65" y="208.00" width="2.00" height="2.00" fill="#c8102e" />
<rect x="156.15" y="210.00" width="2.00" height="2.00" fill="#c8102e" />
<text transform="translate(102.70,217.95) rotate(-90)" x="0" y="0" font-size="9.8" text-anchor="middle" textLength="19.40" lengthAdjust="spacingAndGlyphs">pg/ml</text>
<line x1="206.40" y1="196.00" x2="206.40" y2="240.40" stroke="#0a0a0a" stroke-width="1.25" />
<line x1="203.80" y1="196.00" x2="206.40" y2="196.00" stroke="#0a0a0a" stroke-width="1.25" />
<text x="201.40" y="199.20" font-size="9.0" text-anchor="end" textLength="8.80" lengthAdjust="spacingAndGlyphs" >40</text>
<line x1="203.80" y1="207.10" x2="206.40" y2="207.10" stroke="#0a0a0a" stroke-width="1.25" />
<text x="201.40" y="210.30" font-size="9.0" text-anchor="end" textLength="8.80" lengthAdjust="spacingAndGlyphs" >30</text>
<line x1="203.80" y1="218.20" x2="206.40" y2="218.20" stroke="#0a0a0a" stroke-width="1.25" />
<text x="201.40" y="221.40" font-size="9.0" text-anchor="end" textLength="8.80" lengthAdjust="spacingAndGlyphs" >20</text>
<line x1="203.80" y1="229.30" x2="206.40" y2="229.30" stroke="#0a0a0a" stroke-width="1.25" />
<text x="201.40" y="232.50" font-size="9.0" text-anchor="end" textLength="8.80" lengthAdjust="spacingAndGlyphs" >10</text>
<line x1="203.80" y1="240.40" x2="206.40" y2="240.40" stroke="#0a0a0a" stroke-width="1.25" />
<text x="201.40" y="243.60" font-size="9.0" text-anchor="end" textLength="4.40" lengthAdjust="spacingAndGlyphs" >0</text>
<line x1="206.40" y1="240.40" x2="252.50" y2="240.40" stroke="#0a0a0a" stroke-width="1.25" />
<text x="221.80" y="190.20" font-size="9.7" textLength="15.50" lengthAdjust="spacingAndGlyphs" >IL-2</text>
<rect x="213.40" y="211.20" width="12.60" height="29.20" fill="#0f4c8c" fill-opacity="0.5" stroke="#0f4c8c" stroke-opacity="0.25" stroke-width="0.8"/>
<rect x="233.00" y="221.00" width="12.70" height="19.40" fill="#c8102e" fill-opacity="0.5" stroke="#c8102e" stroke-opacity="0.25" stroke-width="0.8"/>
<line x1="219.70" y1="207.50" x2="219.70" y2="214.50" stroke="#0f4c8c" stroke-width="0.8" />
<line x1="217.40" y1="207.50" x2="222.00" y2="207.50" stroke="#0f4c8c" stroke-width="0.8" />
<line x1="217.40" y1="214.50" x2="222.00" y2="214.50" stroke="#0f4c8c" stroke-width="0.8" />
<line x1="239.35" y1="209.00" x2="239.35" y2="232.00" stroke="#c8102e" stroke-width="0.8" />
<line x1="237.05" y1="209.00" x2="241.65" y2="209.00" stroke="#c8102e" stroke-width="0.8" />
<line x1="237.05" y1="232.00" x2="241.65" y2="232.00" stroke="#c8102e" stroke-width="0.8" />
<circle cx="217.70" cy="208.00" r="0.95" fill="#0f4c8c"/>
<circle cx="221.70" cy="208.00" r="0.95" fill="#0f4c8c"/>
<circle cx="219.70" cy="210.00" r="0.95" fill="#0f4c8c"/>
<circle cx="218.20" cy="213.00" r="0.95" fill="#0f4c8c"/>
<circle cx="221.20" cy="213.00" r="0.95" fill="#0f4c8c"/>
<circle cx="219.70" cy="216.50" r="0.95" fill="#0f4c8c"/>
<rect x="238.35" y="202.00" width="2.00" height="2.00" fill="#c8102e" />
<rect x="238.35" y="218.00" width="2.00" height="2.00" fill="#c8102e" />
<rect x="238.35" y="224.00" width="2.00" height="2.00" fill="#c8102e" />
<rect x="238.35" y="229.00" width="2.00" height="2.00" fill="#c8102e" />
<rect x="238.35" y="234.50" width="2.00" height="2.00" fill="#c8102e" />
<text transform="translate(185.00,218.20) rotate(-90)" x="0" y="0" font-size="9.8" text-anchor="middle" textLength="19.40" lengthAdjust="spacingAndGlyphs">pg/ml</text>
<line x1="294.80" y1="195.50" x2="294.80" y2="240.40" stroke="#0a0a0a" stroke-width="1.25" />
<line x1="292.20" y1="195.50" x2="294.80" y2="195.50" stroke="#0a0a0a" stroke-width="1.25" />
<text x="289.80" y="198.70" font-size="9.0" text-anchor="end" textLength="17.60" lengthAdjust="spacingAndGlyphs" >3000</text>
<line x1="292.20" y1="210.47" x2="294.80" y2="210.47" stroke="#0a0a0a" stroke-width="1.25" />
<text x="289.80" y="213.67" font-size="9.0" text-anchor="end" textLength="17.60" lengthAdjust="spacingAndGlyphs" >2000</text>
<line x1="292.20" y1="225.43" x2="294.80" y2="225.43" stroke="#0a0a0a" stroke-width="1.25" />
<text x="289.80" y="228.63" font-size="9.0" text-anchor="end" textLength="17.60" lengthAdjust="spacingAndGlyphs" >1000</text>
<line x1="292.20" y1="240.40" x2="294.80" y2="240.40" stroke="#0a0a0a" stroke-width="1.25" />
<text x="289.80" y="243.60" font-size="9.0" text-anchor="end" textLength="4.40" lengthAdjust="spacingAndGlyphs" >0</text>
<line x1="294.80" y1="240.40" x2="342.00" y2="240.40" stroke="#0a0a0a" stroke-width="1.25" />
<text x="304.00" y="190.20" font-size="9.7" textLength="28.50" lengthAdjust="spacingAndGlyphs" >CXCL1</text>
<rect x="301.80" y="208.70" width="13.80" height="31.70" fill="#0f4c8c" fill-opacity="0.5" stroke="#0f4c8c" stroke-opacity="0.25" stroke-width="0.8"/>
<rect x="322.30" y="223.90" width="13.40" height="16.50" fill="#c8102e" fill-opacity="0.5" stroke="#c8102e" stroke-opacity="0.25" stroke-width="0.8"/>
<line x1="308.70" y1="201.50" x2="308.70" y2="217.00" stroke="#0f4c8c" stroke-width="0.8" />
<line x1="306.40" y1="201.50" x2="311.00" y2="201.50" stroke="#0f4c8c" stroke-width="0.8" />
<line x1="306.40" y1="217.00" x2="311.00" y2="217.00" stroke="#0f4c8c" stroke-width="0.8" />
<line x1="329.00" y1="213.50" x2="329.00" y2="234.00" stroke="#c8102e" stroke-width="0.8" />
<line x1="326.70" y1="213.50" x2="331.30" y2="213.50" stroke="#c8102e" stroke-width="0.8" />
<line x1="326.70" y1="234.00" x2="331.30" y2="234.00" stroke="#c8102e" stroke-width="0.8" />
<circle cx="308.70" cy="198.00" r="0.95" fill="#0f4c8c"/>
<circle cx="308.70" cy="202.00" r="0.95" fill="#0f4c8c"/>
<circle cx="308.70" cy="207.50" r="0.95" fill="#0f4c8c"/>
<circle cx="307.20" cy="210.00" r="0.95" fill="#0f4c8c"/>
<circle cx="310.20" cy="211.00" r="0.95" fill="#0f4c8c"/>
<circle cx="308.70" cy="214.50" r="0.95" fill="#0f4c8c"/>
<circle cx="308.70" cy="217.00" r="0.95" fill="#0f4c8c"/>
<rect x="328.00" y="209.00" width="2.00" height="2.00" fill="#c8102e" />
<rect x="328.00" y="214.50" width="2.00" height="2.00" fill="#c8102e" />
<rect x="328.00" y="221.00" width="2.00" height="2.00" fill="#c8102e" />
<rect x="327.00" y="224.00" width="2.00" height="2.00" fill="#c8102e" />
<rect x="328.00" y="228.00" width="2.00" height="2.00" fill="#c8102e" />
<rect x="328.00" y="232.00" width="2.00" height="2.00" fill="#c8102e" />
<text transform="translate(265.70,217.95) rotate(-90)" x="0" y="0" font-size="9.8" text-anchor="middle" textLength="19.40" lengthAdjust="spacingAndGlyphs">pg/ml</text>
<line x1="379.10" y1="196.00" x2="379.10" y2="240.40" stroke="#0a0a0a" stroke-width="1.25" />
<line x1="376.50" y1="196.00" x2="379.10" y2="196.00" stroke="#0a0a0a" stroke-width="1.25" />
<text x="374.10" y="199.20" font-size="9.0" text-anchor="end" textLength="13.20" lengthAdjust="spacingAndGlyphs" >200</text>
<line x1="376.50" y1="207.10" x2="379.10" y2="207.10" stroke="#0a0a0a" stroke-width="1.25" />
<text x="374.10" y="210.30" font-size="9.0" text-anchor="end" textLength="13.20" lengthAdjust="spacingAndGlyphs" >150</text>
<line x1="376.50" y1="218.20" x2="379.10" y2="218.20" stroke="#0a0a0a" stroke-width="1.25" />
<text x="374.10" y="221.40" font-size="9.0" text-anchor="end" textLength="13.20" lengthAdjust="spacingAndGlyphs" >100</text>
<line x1="376.50" y1="229.30" x2="379.10" y2="229.30" stroke="#0a0a0a" stroke-width="1.25" />
<text x="374.10" y="232.50" font-size="9.0" text-anchor="end" textLength="8.80" lengthAdjust="spacingAndGlyphs" >50</text>
<line x1="376.50" y1="240.40" x2="379.10" y2="240.40" stroke="#0a0a0a" stroke-width="1.25" />
<text x="374.10" y="243.60" font-size="9.0" text-anchor="end" textLength="4.40" lengthAdjust="spacingAndGlyphs" >0</text>
<line x1="379.10" y1="240.40" x2="426.70" y2="240.40" stroke="#0a0a0a" stroke-width="1.25" />
<text x="392.90" y="190.20" font-size="9.7" textLength="21.10" lengthAdjust="spacingAndGlyphs" >IL-10</text>
<rect x="386.10" y="225.60" width="13.60" height="14.80" fill="#0f4c8c" fill-opacity="0.5" stroke="#0f4c8c" stroke-opacity="0.25" stroke-width="0.8"/>
<rect x="406.60" y="215.00" width="13.40" height="25.40" fill="#c8102e" fill-opacity="0.5" stroke="#c8102e" stroke-opacity="0.25" stroke-width="0.8"/>
<line x1="392.90" y1="222.50" x2="392.90" y2="228.50" stroke="#0f4c8c" stroke-width="0.8" />
<line x1="390.60" y1="222.50" x2="395.20" y2="222.50" stroke="#0f4c8c" stroke-width="0.8" />
<line x1="390.60" y1="228.50" x2="395.20" y2="228.50" stroke="#0f4c8c" stroke-width="0.8" />
<line x1="413.30" y1="209.50" x2="413.30" y2="221.00" stroke="#c8102e" stroke-width="0.8" />
<line x1="411.00" y1="209.50" x2="415.60" y2="209.50" stroke="#c8102e" stroke-width="0.8" />
<line x1="411.00" y1="221.00" x2="415.60" y2="221.00" stroke="#c8102e" stroke-width="0.8" />
<circle cx="392.90" cy="221.00" r="0.95" fill="#0f4c8c"/>
<circle cx="390.40" cy="225.50" r="0.95" fill="#0f4c8c"/>
<circle cx="392.90" cy="225.50" r="0.95" fill="#0f4c8c"/>
<circle cx="395.40" cy="225.50" r="0.95" fill="#0f4c8c"/>
<circle cx="391.90" cy="228.00" r="0.95" fill="#0f4c8c"/>
<circle cx="393.90" cy="228.00" r="0.95" fill="#0f4c8c"/>
<rect x="412.30" y="204.00" width="2.00" height="2.00" fill="#c8102e" />
<rect x="410.30" y="212.00" width="2.00" height="2.00" fill="#c8102e" />
<rect x="414.30" y="212.00" width="2.00" height="2.00" fill="#c8102e" />
<rect x="412.30" y="217.00" width="2.00" height="2.00" fill="#c8102e" />
<rect x="410.30" y="219.50" width="2.00" height="2.00" fill="#c8102e" />
<rect x="414.30" y="219.50" width="2.00" height="2.00" fill="#c8102e" />
<text transform="translate(354.60,218.20) rotate(-90)" x="0" y="0" font-size="9.8" text-anchor="middle" textLength="19.40" lengthAdjust="spacingAndGlyphs">pg/ml</text>
<line x1="396.00" y1="200.20" x2="408.80" y2="200.20" stroke="#0a0a0a" stroke-width="1.1" />
<path d="M400.70,195.30L400.70,197.50M399.75,195.85L401.65,196.95M399.75,196.95L401.65,195.85" stroke="#111" stroke-width="0.9" stroke-linecap="round"/>
<path d="M404.10,195.30L404.10,197.50M403.15,195.85L405.05,196.95M403.15,196.95L405.05,195.85" stroke="#111" stroke-width="0.9" stroke-linecap="round"/>
<text x="10.10" y="270.50" font-size="11.4" fill="#000" font-weight="bold" >D</text>
<circle cx="46.40" cy="271.60" r="1.90" fill="#0f4c8c"/>
<text x="50.80" y="274.10" font-size="8.0" textLength="11.40" lengthAdjust="spacingAndGlyphs" >WT</text>
<rect x="68.50" y="269.70" width="3.70" height="3.70" fill="#c8102e" />
<text x="75.40" y="274.10" font-size="8.0" textLength="10.80" lengthAdjust="spacingAndGlyphs" >KO</text>
<text x="219.10" y="273.70" font-size="9.3" textLength="29.60" lengthAdjust="spacingAndGlyphs" >Day 14</text>
<line x1="38.50" y1="278.30" x2="420.80" y2="278.30" stroke="#5a5a5a" stroke-width="1.4" />
<line x1="41.30" y1="295.60" x2="41.30" y2="340.00" stroke="#0a0a0a" stroke-width="1.25" />
<line x1="38.70" y1="295.60" x2="41.30" y2="295.60" stroke="#0a0a0a" stroke-width="1.25" />
<text x="36.30" y="298.80" font-size="9.0" text-anchor="end" textLength="8.80" lengthAdjust="spacingAndGlyphs" >80</text>
<line x1="38.70" y1="306.70" x2="41.30" y2="306.70" stroke="#0a0a0a" stroke-width="1.25" />
<text x="36.30" y="309.90" font-size="9.0" text-anchor="end" textLength="8.80" lengthAdjust="spacingAndGlyphs" >60</text>
<line x1="38.70" y1="317.80" x2="41.30" y2="317.80" stroke="#0a0a0a" stroke-width="1.25" />
<text x="36.30" y="321.00" font-size="9.0" text-anchor="end" textLength="8.80" lengthAdjust="spacingAndGlyphs" >40</text>
<line x1="38.70" y1="328.90" x2="41.30" y2="328.90" stroke="#0a0a0a" stroke-width="1.25" />
<text x="36.30" y="332.10" font-size="9.0" text-anchor="end" textLength="8.80" lengthAdjust="spacingAndGlyphs" >20</text>
<line x1="38.70" y1="340.00" x2="41.30" y2="340.00" stroke="#0a0a0a" stroke-width="1.25" />
<text x="36.30" y="343.20" font-size="9.0" text-anchor="end" textLength="4.40" lengthAdjust="spacingAndGlyphs" >0</text>
<line x1="41.30" y1="340.00" x2="84.40" y2="340.00" stroke="#0a0a0a" stroke-width="1.25" />
<text x="55.00" y="291.80" font-size="9.7" textLength="18.60" lengthAdjust="spacingAndGlyphs" >IFN&#947;</text>
<rect x="48.00" y="314.40" width="12.60" height="25.60" fill="#0f4c8c" fill-opacity="0.5" stroke="#0f4c8c" stroke-opacity="0.25" stroke-width="0.8"/>
<rect x="67.00" y="324.00" width="12.80" height="16.00" fill="#c8102e" fill-opacity="0.5" stroke="#c8102e" stroke-opacity="0.25" stroke-width="0.8"/>
<line x1="54.30" y1="302.00" x2="54.30" y2="327.00" stroke="#0f4c8c" stroke-width="0.8" />
<line x1="52.00" y1="302.00" x2="56.60" y2="302.00" stroke="#0f4c8c" stroke-width="0.8" />
<line x1="52.00" y1="327.00" x2="56.60" y2="327.00" stroke="#0f4c8c" stroke-width="0.8" />
<line x1="73.40" y1="314.00" x2="73.40" y2="333.00" stroke="#c8102e" stroke-width="0.8" />
<line x1="71.10" y1="314.00" x2="75.70" y2="314.00" stroke="#c8102e" stroke-width="0.8" />
<line x1="71.10" y1="333.00" x2="75.70" y2="333.00" stroke="#c8102e" stroke-width="0.8" />
<circle cx="54.30" cy="299.50" r="0.95" fill="#0f4c8c"/>
<circle cx="52.80" cy="302.00" r="0.95" fill="#0f4c8c"/>
<circle cx="55.80" cy="302.00" r="0.95" fill="#0f4c8c"/>
<circle cx="54.30" cy="306.00" r="0.95" fill="#0f4c8c"/>
<circle cx="54.30" cy="318.00" r="0.95" fill="#0f4c8c"/>
<circle cx="53.30" cy="328.00" r="0.95" fill="#0f4c8c"/>
<circle cx="55.30" cy="329.00" r="0.95" fill="#0f4c8c"/>
<rect x="72.40" y="307.00" width="2.00" height="2.00" fill="#c8102e" />
<rect x="72.40" y="317.00" width="2.00" height="2.00" fill="#c8102e" />
<rect x="70.90" y="322.00" width="2.00" height="2.00" fill="#c8102e" />
<rect x="72.40" y="325.00" width="2.00" height="2.00" fill="#c8102e" />
<rect x="73.90" y="329.00" width="2.00" height="2.00" fill="#c8102e" />
<rect x="72.40" y="331.00" width="2.00" height="2.00" fill="#c8102e" />
<text transform="translate(20.80,317.80) rotate(-90)" x="0" y="0" font-size="9.8" text-anchor="middle" textLength="19.40" lengthAdjust="spacingAndGlyphs">pg/ml</text>
<line x1="121.70" y1="295.20" x2="121.70" y2="340.30" stroke="#0a0a0a" stroke-width="1.25" />
<line x1="119.10" y1="295.20" x2="121.70" y2="295.20" stroke="#0a0a0a" stroke-width="1.25" />
<text x="116.70" y="298.40" font-size="9.0" text-anchor="end" textLength="8.80" lengthAdjust="spacingAndGlyphs" >50</text>
<line x1="119.10" y1="304.22" x2="121.70" y2="304.22" stroke="#0a0a0a" stroke-width="1.25" />
<text x="116.70" y="307.42" font-size="9.0" text-anchor="end" textLength="8.80" lengthAdjust="spacingAndGlyphs" >40</text>
<line x1="119.10" y1="313.24" x2="121.70" y2="313.24" stroke="#0a0a0a" stroke-width="1.25" />
<text x="116.70" y="316.44" font-size="9.0" text-anchor="end" textLength="8.80" lengthAdjust="spacingAndGlyphs" >30</text>
<line x1="119.10" y1="322.26" x2="121.70" y2="322.26" stroke="#0a0a0a" stroke-width="1.25" />
<text x="116.70" y="325.46" font-size="9.0" text-anchor="end" textLength="8.80" lengthAdjust="spacingAndGlyphs" >20</text>
<line x1="119.10" y1="331.28" x2="121.70" y2="331.28" stroke="#0a0a0a" stroke-width="1.25" />
<text x="116.70" y="334.48" font-size="9.0" text-anchor="end" textLength="8.80" lengthAdjust="spacingAndGlyphs" >10</text>
<line x1="119.10" y1="340.30" x2="121.70" y2="340.30" stroke="#0a0a0a" stroke-width="1.25" />
<text x="116.70" y="343.50" font-size="9.0" text-anchor="end" textLength="4.40" lengthAdjust="spacingAndGlyphs" >0</text>
<line x1="121.70" y1="340.30" x2="167.20" y2="340.30" stroke="#0a0a0a" stroke-width="1.25" />
<text x="134.00" y="292.20" font-size="9.7" textLength="24.00" lengthAdjust="spacingAndGlyphs" >TNF&#945;</text>
<rect x="130.20" y="317.70" width="12.30" height="22.60" fill="#0f4c8c" fill-opacity="0.5" stroke="#0f4c8c" stroke-opacity="0.25" stroke-width="0.8"/>
<rect x="149.20" y="326.10" width="12.30" height="14.20" fill="#c8102e" fill-opacity="0.5" stroke="#c8102e" stroke-opacity="0.25" stroke-width="0.8"/>
<line x1="136.35" y1="309.00" x2="136.35" y2="324.00" stroke="#0f4c8c" stroke-width="0.8" />
<line x1="134.05" y1="309.00" x2="138.65" y2="309.00" stroke="#0f4c8c" stroke-width="0.8" />
<line x1="134.05" y1="324.00" x2="138.65" y2="324.00" stroke="#0f4c8c" stroke-width="0.8" />
<line x1="155.35" y1="322.50" x2="155.35" y2="328.50" stroke="#c8102e" stroke-width="0.8" />
<line x1="153.05" y1="322.50" x2="157.65" y2="322.50" stroke="#c8102e" stroke-width="0.8" />
<line x1="153.05" y1="328.50" x2="157.65" y2="328.50" stroke="#c8102e" stroke-width="0.8" />
<circle cx="136.35" cy="301.30" r="0.95" fill="#0f4c8c"/>
<circle cx="136.35" cy="318.00" r="0.95" fill="#0f4c8c"/>
<circle cx="134.85" cy="321.00" r="0.95" fill="#0f4c8c"/>
<circle cx="137.85" cy="321.00" r="0.95" fill="#0f4c8c"/>
<circle cx="136.35" cy="324.00" r="0.95" fill="#0f4c8c"/>
<circle cx="135.35" cy="327.00" r="0.95" fill="#0f4c8c"/>
<circle cx="137.35" cy="327.00" r="0.95" fill="#0f4c8c"/>
<rect x="152.35" y="323.00" width="2.00" height="2.00" fill="#c8102e" />
<rect x="154.35" y="322.00" width="2.00" height="2.00" fill="#c8102e" />
<rect x="156.35" y="323.00" width="2.00" height="2.00" fill="#c8102e" />
<rect x="153.35" y="325.50" width="2.00" height="2.00" fill="#c8102e" />
<rect x="155.35" y="325.50" width="2.00" height="2.00" fill="#c8102e" />
<rect x="154.35" y="327.00" width="2.00" height="2.00" fill="#c8102e" />
<text transform="translate(102.30,317.75) rotate(-90)" x="0" y="0" font-size="9.8" text-anchor="middle" textLength="19.40" lengthAdjust="spacingAndGlyphs">pg/ml</text>
<line x1="141.40" y1="302.40" x2="152.40" y2="302.40" stroke="#0a0a0a" stroke-width="1.1" />
<path d="M143.50,297.50L143.50,299.70M142.55,298.05L144.45,299.15M142.55,299.15L144.45,298.05" stroke="#111" stroke-width="0.9" stroke-linecap="round"/>
<path d="M146.90,297.50L146.90,299.70M145.95,298.05L147.85,299.15M145.95,299.15L147.85,298.05" stroke="#111" stroke-width="0.9" stroke-linecap="round"/>
<path d="M150.30,297.50L150.30,299.70M149.35,298.05L151.25,299.15M149.35,299.15L151.25,298.05" stroke="#111" stroke-width="0.9" stroke-linecap="round"/>
<line x1="204.90" y1="295.50" x2="204.90" y2="340.30" stroke="#0a0a0a" stroke-width="1.25" />
<line x1="202.30" y1="295.50" x2="204.90" y2="295.50" stroke="#0a0a0a" stroke-width="1.25" />
<text x="199.90" y="298.70" font-size="9.0" text-anchor="end" textLength="8.80" lengthAdjust="spacingAndGlyphs" >60</text>
<line x1="202.30" y1="310.43" x2="204.90" y2="310.43" stroke="#0a0a0a" stroke-width="1.25" />
<text x="199.90" y="313.63" font-size="9.0" text-anchor="end" textLength="8.80" lengthAdjust="spacingAndGlyphs" >40</text>
<line x1="202.30" y1="325.37" x2="204.90" y2="325.37" stroke="#0a0a0a" stroke-width="1.25" />
<text x="199.90" y="328.57" font-size="9.0" text-anchor="end" textLength="8.80" lengthAdjust="spacingAndGlyphs" >20</text>
<line x1="202.30" y1="340.30" x2="204.90" y2="340.30" stroke="#0a0a0a" stroke-width="1.25" />
<text x="199.90" y="343.50" font-size="9.0" text-anchor="end" textLength="4.40" lengthAdjust="spacingAndGlyphs" >0</text>
<line x1="204.90" y1="340.30" x2="251.00" y2="340.30" stroke="#0a0a0a" stroke-width="1.25" />
<text x="220.80" y="291.90" font-size="9.7" textLength="15.20" lengthAdjust="spacingAndGlyphs" >IL-2</text>
<rect x="212.30" y="321.30" width="12.70" height="19.00" fill="#0f4c8c" fill-opacity="0.5" stroke="#0f4c8c" stroke-opacity="0.25" stroke-width="0.8"/>
<rect x="231.80" y="331.40" width="12.70" height="8.90" fill="#c8102e" fill-opacity="0.5" stroke="#c8102e" stroke-opacity="0.25" stroke-width="0.8"/>
<line x1="218.65" y1="312.50" x2="218.65" y2="333.00" stroke="#0f4c8c" stroke-width="0.8" />
<line x1="216.35" y1="312.50" x2="220.95" y2="312.50" stroke="#0f4c8c" stroke-width="0.8" />
<line x1="216.35" y1="333.00" x2="220.95" y2="333.00" stroke="#0f4c8c" stroke-width="0.8" />
<line x1="238.15" y1="328.00" x2="238.15" y2="334.50" stroke="#c8102e" stroke-width="0.8" />
<line x1="235.85" y1="328.00" x2="240.45" y2="328.00" stroke="#c8102e" stroke-width="0.8" />
<line x1="235.85" y1="334.50" x2="240.45" y2="334.50" stroke="#c8102e" stroke-width="0.8" />
<circle cx="218.65" cy="304.00" r="0.95" fill="#0f4c8c"/>
<circle cx="218.65" cy="317.00" r="0.95" fill="#0f4c8c"/>
<circle cx="217.15" cy="320.00" r="0.95" fill="#0f4c8c"/>
<circle cx="220.15" cy="320.00" r="0.95" fill="#0f4c8c"/>
<circle cx="218.65" cy="325.00" r="0.95" fill="#0f4c8c"/>
<circle cx="218.65" cy="332.00" r="0.95" fill="#0f4c8c"/>
<circle cx="217.65" cy="335.00" r="0.95" fill="#0f4c8c"/>
<rect x="237.15" y="325.00" width="2.00" height="2.00" fill="#c8102e" />
<rect x="235.15" y="328.00" width="2.00" height="2.00" fill="#c8102e" />
<rect x="237.15" y="328.00" width="2.00" height="2.00" fill="#c8102e" />
<rect x="239.15" y="328.00" width="2.00" height="2.00" fill="#c8102e" />
<rect x="236.15" y="331.00" width="2.00" height="2.00" fill="#c8102e" />
<rect x="238.15" y="331.00" width="2.00" height="2.00" fill="#c8102e" />
<rect x="237.15" y="333.00" width="2.00" height="2.00" fill="#c8102e" />
<text transform="translate(184.80,317.90) rotate(-90)" x="0" y="0" font-size="9.8" text-anchor="middle" textLength="19.40" lengthAdjust="spacingAndGlyphs">pg/ml</text>
<line x1="224.00" y1="301.40" x2="234.50" y2="301.40" stroke="#0a0a0a" stroke-width="1.1" />
<path d="M227.55,296.50L227.55,298.70M226.60,297.05L228.50,298.15M226.60,298.15L228.50,297.05" stroke="#111" stroke-width="0.9" stroke-linecap="round"/>
<path d="M230.95,296.50L230.95,298.70M230.00,297.05L231.90,298.15M230.00,298.15L231.90,297.05" stroke="#111" stroke-width="0.9" stroke-linecap="round"/>
<line x1="294.80" y1="296.40" x2="294.80" y2="339.80" stroke="#0a0a0a" stroke-width="1.25" />
<line x1="292.20" y1="296.40" x2="294.80" y2="296.40" stroke="#0a0a0a" stroke-width="1.25" />
<text x="289.80" y="299.60" font-size="9.0" text-anchor="end" textLength="13.20" lengthAdjust="spacingAndGlyphs" >600</text>
<line x1="292.20" y1="310.87" x2="294.80" y2="310.87" stroke="#0a0a0a" stroke-width="1.25" />
<text x="289.80" y="314.07" font-size="9.0" text-anchor="end" textLength="13.20" lengthAdjust="spacingAndGlyphs" >400</text>
<line x1="292.20" y1="325.33" x2="294.80" y2="325.33" stroke="#0a0a0a" stroke-width="1.25" />
<text x="289.80" y="328.53" font-size="9.0" text-anchor="end" textLength="13.20" lengthAdjust="spacingAndGlyphs" >200</text>
<line x1="292.20" y1="339.80" x2="294.80" y2="339.80" stroke="#0a0a0a" stroke-width="1.25" />
<text x="289.80" y="343.00" font-size="9.0" text-anchor="end" textLength="4.40" lengthAdjust="spacingAndGlyphs" >0</text>
<line x1="294.80" y1="339.80" x2="340.50" y2="339.80" stroke="#0a0a0a" stroke-width="1.25" />
<text x="303.30" y="291.80" font-size="9.7" textLength="28.10" lengthAdjust="spacingAndGlyphs" >CXCL1</text>
<rect x="301.80" y="314.00" width="12.70" height="25.80" fill="#0f4c8c" fill-opacity="0.5" stroke="#0f4c8c" stroke-opacity="0.25" stroke-width="0.8"/>
<rect x="321.30" y="324.00" width="12.70" height="15.80" fill="#c8102e" fill-opacity="0.5" stroke="#c8102e" stroke-opacity="0.25" stroke-width="0.8"/>
<line x1="308.15" y1="306.50" x2="308.15" y2="321.50" stroke="#0f4c8c" stroke-width="0.8" />
<line x1="305.85" y1="306.50" x2="310.45" y2="306.50" stroke="#0f4c8c" stroke-width="0.8" />
<line x1="305.85" y1="321.50" x2="310.45" y2="321.50" stroke="#0f4c8c" stroke-width="0.8" />
<line x1="327.65" y1="319.50" x2="327.65" y2="329.00" stroke="#c8102e" stroke-width="0.8" />
<line x1="325.35" y1="319.50" x2="329.95" y2="319.50" stroke="#c8102e" stroke-width="0.8" />
<line x1="325.35" y1="329.00" x2="329.95" y2="329.00" stroke="#c8102e" stroke-width="0.8" />
<circle cx="306.65" cy="305.50" r="0.95" fill="#0f4c8c"/>
<circle cx="309.65" cy="305.50" r="0.95" fill="#0f4c8c"/>
<circle cx="308.15" cy="313.00" r="0.95" fill="#0f4c8c"/>
<circle cx="307.15" cy="319.00" r="0.95" fill="#0f4c8c"/>
<circle cx="309.15" cy="322.00" r="0.95" fill="#0f4c8c"/>
<circle cx="308.15" cy="326.00" r="0.95" fill="#0f4c8c"/>
<rect x="324.65" y="318.50" width="2.00" height="2.00" fill="#c8102e" />
<rect x="326.65" y="318.50" width="2.00" height="2.00" fill="#c8102e" />
<rect x="328.65" y="319.00" width="2.00" height="2.00" fill="#c8102e" />
<rect x="326.65" y="322.00" width="2.00" height="2.00" fill="#c8102e" />
<rect x="326.65" y="326.00" width="2.00" height="2.00" fill="#c8102e" />
<rect x="326.65" y="330.00" width="2.00" height="2.00" fill="#c8102e" />
<text transform="translate(269.70,318.10) rotate(-90)" x="0" y="0" font-size="9.8" text-anchor="middle" textLength="19.40" lengthAdjust="spacingAndGlyphs">pg/ml</text>
<line x1="313.00" y1="300.30" x2="324.00" y2="300.30" stroke="#0a0a0a" stroke-width="1.1" />
<path d="M318.50,295.40L318.50,297.60M317.55,295.95L319.45,297.05M317.55,297.05L319.45,295.95" stroke="#111" stroke-width="0.9" stroke-linecap="round"/>
<line x1="379.10" y1="296.40" x2="379.10" y2="339.80" stroke="#0a0a0a" stroke-width="1.25" />
<line x1="376.50" y1="296.40" x2="379.10" y2="296.40" stroke="#0a0a0a" stroke-width="1.25" />
<text x="374.10" y="299.60" font-size="9.0" text-anchor="end" textLength="8.80" lengthAdjust="spacingAndGlyphs" >60</text>
<line x1="376.50" y1="310.87" x2="379.10" y2="310.87" stroke="#0a0a0a" stroke-width="1.25" />
<text x="374.10" y="314.07" font-size="9.0" text-anchor="end" textLength="8.80" lengthAdjust="spacingAndGlyphs" >40</text>
<line x1="376.50" y1="325.33" x2="379.10" y2="325.33" stroke="#0a0a0a" stroke-width="1.25" />
<text x="374.10" y="328.53" font-size="9.0" text-anchor="end" textLength="8.80" lengthAdjust="spacingAndGlyphs" >20</text>
<line x1="376.50" y1="339.80" x2="379.10" y2="339.80" stroke="#0a0a0a" stroke-width="1.25" />
<text x="374.10" y="343.00" font-size="9.0" text-anchor="end" textLength="4.40" lengthAdjust="spacingAndGlyphs" >0</text>
<line x1="379.10" y1="339.80" x2="425.70" y2="339.80" stroke="#0a0a0a" stroke-width="1.25" />
<text x="390.80" y="291.80" font-size="9.7" textLength="20.70" lengthAdjust="spacingAndGlyphs" >IL-10</text>
<rect x="386.10" y="321.20" width="13.10" height="18.60" fill="#0f4c8c" fill-opacity="0.5" stroke="#0f4c8c" stroke-opacity="0.25" stroke-width="0.8"/>
<rect x="406.00" y="326.70" width="12.90" height="13.10" fill="#c8102e" fill-opacity="0.5" stroke="#c8102e" stroke-opacity="0.25" stroke-width="0.8"/>
<line x1="392.65" y1="310.50" x2="392.65" y2="332.00" stroke="#0f4c8c" stroke-width="0.8" />
<line x1="390.35" y1="310.50" x2="394.95" y2="310.50" stroke="#0f4c8c" stroke-width="0.8" />
<line x1="390.35" y1="332.00" x2="394.95" y2="332.00" stroke="#0f4c8c" stroke-width="0.8" />
<line x1="412.45" y1="321.50" x2="412.45" y2="331.00" stroke="#c8102e" stroke-width="0.8" />
<line x1="410.15" y1="321.50" x2="414.75" y2="321.50" stroke="#c8102e" stroke-width="0.8" />
<line x1="410.15" y1="331.00" x2="414.75" y2="331.00" stroke="#c8102e" stroke-width="0.8" />
<circle cx="392.65" cy="298.00" r="0.95" fill="#0f4c8c"/>
<circle cx="392.65" cy="319.50" r="0.95" fill="#0f4c8c"/>
<circle cx="390.65" cy="326.00" r="0.95" fill="#0f4c8c"/>
<circle cx="392.65" cy="326.00" r="0.95" fill="#0f4c8c"/>
<circle cx="394.65" cy="326.00" r="0.95" fill="#0f4c8c"/>
<circle cx="391.65" cy="329.00" r="0.95" fill="#0f4c8c"/>
<circle cx="393.65" cy="329.00" r="0.95" fill="#0f4c8c"/>
<rect x="411.45" y="315.50" width="2.00" height="2.00" fill="#c8102e" />
<rect x="409.45" y="322.00" width="2.00" height="2.00" fill="#c8102e" />
<rect x="411.45" y="322.00" width="2.00" height="2.00" fill="#c8102e" />
<rect x="413.45" y="322.00" width="2.00" height="2.00" fill="#c8102e" />
<rect x="410.45" y="326.50" width="2.00" height="2.00" fill="#c8102e" />
<rect x="412.45" y="326.50" width="2.00" height="2.00" fill="#c8102e" />
<rect x="411.45" y="329.00" width="2.00" height="2.00" fill="#c8102e" />
<text transform="translate(358.50,318.10) rotate(-90)" x="0" y="0" font-size="9.8" text-anchor="middle" textLength="19.40" lengthAdjust="spacingAndGlyphs">pg/ml</text>
<text x="10.00" y="363.00" font-size="11.4" fill="#000" font-weight="bold" >E</text>
<circle cx="142.10" cy="355.70" r="2.00" fill="#0f4c8c"/>
<text x="146.00" y="358.60" font-size="8.4" textLength="11.60" lengthAdjust="spacingAndGlyphs" >WT</text>
<rect x="164.30" y="353.80" width="3.80" height="3.80" fill="#c8102e" />
<text x="171.00" y="358.60" font-size="8.4" textLength="10.80" lengthAdjust="spacingAndGlyphs" >KO</text>
<line x1="40.80" y1="372.90" x2="40.80" y2="429.60" stroke="#0a0a0a" stroke-width="1.25" />
<line x1="38.10" y1="372.90" x2="40.80" y2="372.90" stroke="#0a0a0a" stroke-width="1.25" />
<text x="35.80" y="375.90" font-size="9.0" text-anchor="end" textLength="11.30" lengthAdjust="spacingAndGlyphs" >0.4</text>
<line x1="38.10" y1="387.07" x2="40.80" y2="387.07" stroke="#0a0a0a" stroke-width="1.25" />
<text x="35.80" y="390.07" font-size="9.0" text-anchor="end" textLength="11.30" lengthAdjust="spacingAndGlyphs" >0.3</text>
<line x1="38.10" y1="401.25" x2="40.80" y2="401.25" stroke="#0a0a0a" stroke-width="1.25" />
<text x="35.80" y="404.25" font-size="9.0" text-anchor="end" textLength="11.30" lengthAdjust="spacingAndGlyphs" >0.2</text>
<line x1="38.10" y1="415.43" x2="40.80" y2="415.43" stroke="#0a0a0a" stroke-width="1.25" />
<text x="35.80" y="418.43" font-size="9.0" text-anchor="end" textLength="11.30" lengthAdjust="spacingAndGlyphs" >0.1</text>
<line x1="38.10" y1="429.60" x2="40.80" y2="429.60" stroke="#0a0a0a" stroke-width="1.25" />
<text x="35.80" y="432.60" font-size="9.0" text-anchor="end" textLength="11.30" lengthAdjust="spacingAndGlyphs" >0.0</text>
<line x1="40.80" y1="429.60" x2="99.00" y2="429.60" stroke="#0a0a0a" stroke-width="1.25" />
<text x="56.70" y="366.70" font-size="9.5" font-style="italic" textLength="27.50" lengthAdjust="spacingAndGlyphs" >Gpr43</text>
<rect x="49.60" y="428.20" width="14.80" height="1.40" fill="#0f4c8c" fill-opacity="0.5" stroke="#0f4c8c" stroke-opacity="0.25" stroke-width="0.8"/>
<rect x="74.40" y="415.20" width="16.00" height="14.40" fill="#c8102e" fill-opacity="0.5" stroke="#c8102e" stroke-opacity="0.25" stroke-width="0.8"/>
<line x1="57.00" y1="427.20" x2="57.00" y2="429.00" stroke="#0f4c8c" stroke-width="0.9" />
<line x1="54.00" y1="427.20" x2="60.00" y2="427.20" stroke="#0f4c8c" stroke-width="0.9" />
<line x1="54.00" y1="429.00" x2="60.00" y2="429.00" stroke="#0f4c8c" stroke-width="0.9" />
<line x1="82.40" y1="400.00" x2="82.40" y2="429.60" stroke="#c8102e" stroke-width="0.9" />
<line x1="79.40" y1="400.00" x2="85.40" y2="400.00" stroke="#c8102e" stroke-width="0.9" />
<line x1="79.40" y1="429.60" x2="85.40" y2="429.60" stroke="#c8102e" stroke-width="0.9" />
<circle cx="52.00" cy="428.50" r="1.25" fill="#0f4c8c"/>
<circle cx="54.50" cy="428.00" r="1.25" fill="#0f4c8c"/>
<circle cx="57.00" cy="427.00" r="1.25" fill="#0f4c8c"/>
<circle cx="59.50" cy="428.00" r="1.25" fill="#0f4c8c"/>
<circle cx="62.00" cy="428.50" r="1.25" fill="#0f4c8c"/>
<circle cx="53.50" cy="429.00" r="1.25" fill="#0f4c8c"/>
<circle cx="60.50" cy="429.00" r="1.25" fill="#0f4c8c"/>
<rect x="81.15" y="385.25" width="2.50" height="2.50" fill="#c8102e" />
<rect x="81.15" y="390.75" width="2.50" height="2.50" fill="#c8102e" />
<rect x="81.15" y="413.25" width="2.50" height="2.50" fill="#c8102e" />
<rect x="79.65" y="414.75" width="2.50" height="2.50" fill="#c8102e" />
<rect x="81.15" y="419.75" width="2.50" height="2.50" fill="#c8102e" />
<rect x="77.65" y="423.75" width="2.50" height="2.50" fill="#c8102e" />
<rect x="84.65" y="423.75" width="2.50" height="2.50" fill="#c8102e" />
<rect x="80.15" y="427.75" width="2.50" height="2.50" fill="#c8102e" />
<rect x="82.65" y="427.75" width="2.50" height="2.50" fill="#c8102e" />
<text transform="translate(16.70,401.25) rotate(-90)" x="0" y="0" font-size="8.2" text-anchor="middle" textLength="63.00" lengthAdjust="spacingAndGlyphs">Relative expression</text>
<line x1="62.50" y1="379.20" x2="77.00" y2="379.20" stroke="#0a0a0a" stroke-width="1.1" />
<path d="M69.75,374.30L69.75,376.50M68.80,374.85L70.70,375.95M68.80,375.95L70.70,374.85" stroke="#111" stroke-width="0.9" stroke-linecap="round"/>
<line x1="135.40" y1="372.90" x2="135.40" y2="429.60" stroke="#0a0a0a" stroke-width="1.25" />
<line x1="132.70" y1="372.90" x2="135.40" y2="372.90" stroke="#0a0a0a" stroke-width="1.25" />
<text x="130.40" y="375.90" font-size="9.0" text-anchor="end" textLength="15.70" lengthAdjust="spacingAndGlyphs" >0.04</text>
<line x1="132.70" y1="387.07" x2="135.40" y2="387.07" stroke="#0a0a0a" stroke-width="1.25" />
<text x="130.40" y="390.07" font-size="9.0" text-anchor="end" textLength="15.70" lengthAdjust="spacingAndGlyphs" >0.03</text>
<line x1="132.70" y1="401.25" x2="135.40" y2="401.25" stroke="#0a0a0a" stroke-width="1.25" />
<text x="130.40" y="404.25" font-size="9.0" text-anchor="end" textLength="15.70" lengthAdjust="spacingAndGlyphs" >0.02</text>
<line x1="132.70" y1="415.43" x2="135.40" y2="415.43" stroke="#0a0a0a" stroke-width="1.25" />
<text x="130.40" y="418.43" font-size="9.0" text-anchor="end" textLength="15.70" lengthAdjust="spacingAndGlyphs" >0.01</text>
<line x1="132.70" y1="429.60" x2="135.40" y2="429.60" stroke="#0a0a0a" stroke-width="1.25" />
<text x="130.40" y="432.60" font-size="9.0" text-anchor="end" textLength="15.70" lengthAdjust="spacingAndGlyphs" >0.00</text>
<line x1="135.40" y1="429.60" x2="194.00" y2="429.60" stroke="#0a0a0a" stroke-width="1.25" />
<text x="153.70" y="367.70" font-size="9.5" font-style="italic" textLength="24.00" lengthAdjust="spacingAndGlyphs" >Nlrp3</text>
<rect x="145.00" y="420.00" width="16.30" height="9.60" fill="#0f4c8c" fill-opacity="0.5" stroke="#0f4c8c" stroke-opacity="0.25" stroke-width="0.8"/>
<rect x="169.40" y="411.00" width="16.40" height="18.60" fill="#c8102e" fill-opacity="0.5" stroke="#c8102e" stroke-opacity="0.25" stroke-width="0.8"/>
<line x1="153.15" y1="412.50" x2="153.15" y2="428.00" stroke="#0f4c8c" stroke-width="0.9" />
<line x1="150.15" y1="412.50" x2="156.15" y2="412.50" stroke="#0f4c8c" stroke-width="0.9" />
<line x1="150.15" y1="428.00" x2="156.15" y2="428.00" stroke="#0f4c8c" stroke-width="0.9" />
<line x1="177.60" y1="396.00" x2="177.60" y2="428.00" stroke="#c8102e" stroke-width="0.9" />
<line x1="174.60" y1="396.00" x2="180.60" y2="396.00" stroke="#c8102e" stroke-width="0.9" />
<line x1="174.60" y1="428.00" x2="180.60" y2="428.00" stroke="#c8102e" stroke-width="0.9" />
<circle cx="153.15" cy="409.50" r="1.25" fill="#0f4c8c"/>
<circle cx="153.15" cy="418.00" r="1.25" fill="#0f4c8c"/>
<circle cx="151.65" cy="422.50" r="1.25" fill="#0f4c8c"/>
<circle cx="154.65" cy="422.50" r="1.25" fill="#0f4c8c"/>
<circle cx="153.15" cy="428.00" r="1.25" fill="#0f4c8c"/>
<circle cx="177.60" cy="381.00" r="1.25" fill="#c8102e"/>
<circle cx="177.60" cy="396.00" r="1.25" fill="#c8102e"/>
<circle cx="177.60" cy="409.00" r="1.25" fill="#c8102e"/>
<circle cx="177.60" cy="416.00" r="1.25" fill="#c8102e"/>
<circle cx="175.60" cy="419.00" r="1.25" fill="#c8102e"/>
<circle cx="180.60" cy="420.00" r="1.25" fill="#c8102e"/>
<circle cx="176.60" cy="424.00" r="1.25" fill="#c8102e"/>
<text transform="translate(114.00,401.25) rotate(-90)" x="0" y="0" font-size="8.2" text-anchor="middle" textLength="63.00" lengthAdjust="spacingAndGlyphs">Relative expression</text>
<line x1="227.50" y1="372.90" x2="227.50" y2="429.60" stroke="#0a0a0a" stroke-width="1.25" />
<line x1="224.80" y1="372.90" x2="227.50" y2="372.90" stroke="#0a0a0a" stroke-width="1.25" />
<text x="222.50" y="375.90" font-size="9.0" text-anchor="end" textLength="11.30" lengthAdjust="spacingAndGlyphs" >1.0</text>
<line x1="224.80" y1="384.24" x2="227.50" y2="384.24" stroke="#0a0a0a" stroke-width="1.25" />
<text x="222.50" y="387.24" font-size="9.0" text-anchor="end" textLength="11.30" lengthAdjust="spacingAndGlyphs" >0.8</text>
<line x1="224.80" y1="395.58" x2="227.50" y2="395.58" stroke="#0a0a0a" stroke-width="1.25" />
<text x="222.50" y="398.58" font-size="9.0" text-anchor="end" textLength="11.30" lengthAdjust="spacingAndGlyphs" >0.6</text>
<line x1="224.80" y1="406.92" x2="227.50" y2="406.92" stroke="#0a0a0a" stroke-width="1.25" />
<text x="222.50" y="409.92" font-size="9.0" text-anchor="end" textLength="11.30" lengthAdjust="spacingAndGlyphs" >0.4</text>
<line x1="224.80" y1="418.26" x2="227.50" y2="418.26" stroke="#0a0a0a" stroke-width="1.25" />
<text x="222.50" y="421.26" font-size="9.0" text-anchor="end" textLength="11.30" lengthAdjust="spacingAndGlyphs" >0.2</text>
<line x1="224.80" y1="429.60" x2="227.50" y2="429.60" stroke="#0a0a0a" stroke-width="1.25" />
<text x="222.50" y="432.60" font-size="9.0" text-anchor="end" textLength="11.30" lengthAdjust="spacingAndGlyphs" >0.0</text>
<line x1="227.50" y1="429.60" x2="285.20" y2="429.60" stroke="#0a0a0a" stroke-width="1.25" />
<text x="247.70" y="366.50" font-size="9.5" font-style="italic" textLength="18.30" lengthAdjust="spacingAndGlyphs" >Il-18</text>
<rect x="237.10" y="428.20" width="14.90" height="1.40" fill="#0f4c8c" fill-opacity="0.5" stroke="#0f4c8c" stroke-opacity="0.25" stroke-width="0.8"/>
<rect x="260.80" y="412.00" width="16.10" height="17.60" fill="#c8102e" fill-opacity="0.5" stroke="#c8102e" stroke-opacity="0.25" stroke-width="0.8"/>
<line x1="244.55" y1="428.00" x2="244.55" y2="429.00" stroke="#0f4c8c" stroke-width="0.9" />
<line x1="241.55" y1="428.00" x2="247.55" y2="428.00" stroke="#0f4c8c" stroke-width="0.9" />
<line x1="241.55" y1="429.00" x2="247.55" y2="429.00" stroke="#0f4c8c" stroke-width="0.9" />
<line x1="268.85" y1="405.00" x2="268.85" y2="420.00" stroke="#c8102e" stroke-width="0.9" />
<line x1="265.85" y1="405.00" x2="271.85" y2="405.00" stroke="#c8102e" stroke-width="0.9" />
<line x1="265.85" y1="420.00" x2="271.85" y2="420.00" stroke="#c8102e" stroke-width="0.9" />
<circle cx="238.55" cy="427.50" r="1.25" fill="#0f4c8c"/>
<circle cx="240.55" cy="428.50" r="1.25" fill="#0f4c8c"/>
<circle cx="242.55" cy="429.00" r="1.25" fill="#0f4c8c"/>
<circle cx="244.55" cy="429.00" r="1.25" fill="#0f4c8c"/>
<circle cx="246.55" cy="429.00" r="1.25" fill="#0f4c8c"/>
<circle cx="248.55" cy="428.50" r="1.25" fill="#0f4c8c"/>
<circle cx="250.55" cy="427.50" r="1.25" fill="#0f4c8c"/>
<rect x="267.60" y="380.75" width="2.50" height="2.50" fill="#c8102e" />
<rect x="267.60" y="395.75" width="2.50" height="2.50" fill="#c8102e" />
<rect x="267.60" y="406.25" width="2.50" height="2.50" fill="#c8102e" />
<rect x="265.60" y="407.75" width="2.50" height="2.50" fill="#c8102e" />
<rect x="269.60" y="407.75" width="2.50" height="2.50" fill="#c8102e" />
<rect x="267.60" y="414.75" width="2.50" height="2.50" fill="#c8102e" />
<rect x="265.60" y="426.75" width="2.50" height="2.50" fill="#c8102e" />
<rect x="269.60" y="426.75" width="2.50" height="2.50" fill="#c8102e" />
<rect x="267.60" y="427.75" width="2.50" height="2.50" fill="#c8102e" />
<text transform="translate(208.00,401.25) rotate(-90)" x="0" y="0" font-size="8.2" text-anchor="middle" textLength="63.00" lengthAdjust="spacingAndGlyphs">Relative expression</text>
<line x1="248.70" y1="379.60" x2="263.00" y2="379.60" stroke="#0a0a0a" stroke-width="1.1" />
<path d="M254.15,374.70L254.15,376.90M253.20,375.25L255.10,376.35M253.20,376.35L255.10,375.25" stroke="#111" stroke-width="0.9" stroke-linecap="round"/>
<path d="M257.55,374.70L257.55,376.90M256.60,375.25L258.50,376.35M256.60,376.35L258.50,375.25" stroke="#111" stroke-width="0.9" stroke-linecap="round"/>
<text x="299.60" y="363.00" font-size="11.4" fill="#000" font-weight="bold" >F</text>
<line x1="325.60" y1="373.50" x2="325.60" y2="429.60" stroke="#0a0a0a" stroke-width="1.25" />
<line x1="322.90" y1="373.50" x2="325.60" y2="373.50" stroke="#0a0a0a" stroke-width="1.25" />
<text x="320.60" y="376.50" font-size="9.0" text-anchor="end" textLength="8.80" lengthAdjust="spacingAndGlyphs" >50</text>
<line x1="322.90" y1="384.72" x2="325.60" y2="384.72" stroke="#0a0a0a" stroke-width="1.25" />
<text x="320.60" y="387.72" font-size="9.0" text-anchor="end" textLength="8.80" lengthAdjust="spacingAndGlyphs" >40</text>
<line x1="322.90" y1="395.94" x2="325.60" y2="395.94" stroke="#0a0a0a" stroke-width="1.25" />
<text x="320.60" y="398.94" font-size="9.0" text-anchor="end" textLength="8.80" lengthAdjust="spacingAndGlyphs" >30</text>
<line x1="322.90" y1="407.16" x2="325.60" y2="407.16" stroke="#0a0a0a" stroke-width="1.25" />
<text x="320.60" y="410.16" font-size="9.0" text-anchor="end" textLength="8.80" lengthAdjust="spacingAndGlyphs" >20</text>
<line x1="322.90" y1="418.38" x2="325.60" y2="418.38" stroke="#0a0a0a" stroke-width="1.25" />
<text x="320.60" y="421.38" font-size="9.0" text-anchor="end" textLength="8.80" lengthAdjust="spacingAndGlyphs" >10</text>
<line x1="322.90" y1="429.60" x2="325.60" y2="429.60" stroke="#0a0a0a" stroke-width="1.25" />
<text x="320.60" y="432.60" font-size="9.0" text-anchor="end" textLength="4.40" lengthAdjust="spacingAndGlyphs" >0</text>
<line x1="325.60" y1="429.60" x2="383.30" y2="429.60" stroke="#0a0a0a" stroke-width="1.25" />
<text x="340.40" y="366.50" font-size="9.5" font-style="italic" textLength="27.50" lengthAdjust="spacingAndGlyphs" >Retnlb</text>
<rect x="333.30" y="427.40" width="16.30" height="2.20" fill="#0f4c8c" fill-opacity="0.5" stroke="#0f4c8c" stroke-opacity="0.25" stroke-width="0.8"/>
<rect x="358.30" y="413.70" width="16.30" height="15.90" fill="#c8102e" fill-opacity="0.5" stroke="#c8102e" stroke-opacity="0.25" stroke-width="0.8"/>
<line x1="341.45" y1="425.00" x2="341.45" y2="427.00" stroke="#0f4c8c" stroke-width="0.9" />
<line x1="338.45" y1="425.00" x2="344.45" y2="425.00" stroke="#0f4c8c" stroke-width="0.9" />
<line x1="338.45" y1="427.00" x2="344.45" y2="427.00" stroke="#0f4c8c" stroke-width="0.9" />
<line x1="366.45" y1="398.00" x2="366.45" y2="429.00" stroke="#c8102e" stroke-width="0.9" />
<line x1="363.45" y1="398.00" x2="369.45" y2="398.00" stroke="#c8102e" stroke-width="0.9" />
<line x1="363.45" y1="429.00" x2="369.45" y2="429.00" stroke="#c8102e" stroke-width="0.9" />
<circle cx="341.45" cy="420.00" r="1.25" fill="#0f4c8c"/>
<circle cx="339.45" cy="424.00" r="1.25" fill="#0f4c8c"/>
<circle cx="342.45" cy="424.00" r="1.25" fill="#0f4c8c"/>
<circle cx="338.45" cy="426.00" r="1.25" fill="#0f4c8c"/>
<circle cx="341.45" cy="427.00" r="1.25" fill="#0f4c8c"/>
<circle cx="344.45" cy="426.00" r="1.25" fill="#0f4c8c"/>
<circle cx="336.45" cy="428.00" r="1.25" fill="#0f4c8c"/>
<circle cx="339.45" cy="428.50" r="1.25" fill="#0f4c8c"/>
<circle cx="343.45" cy="428.50" r="1.25" fill="#0f4c8c"/>
<circle cx="346.45" cy="428.00" r="1.25" fill="#0f4c8c"/>
<rect x="365.20" y="379.25" width="2.50" height="2.50" fill="#c8102e" />
<rect x="365.20" y="402.75" width="2.50" height="2.50" fill="#c8102e" />
<rect x="365.20" y="407.75" width="2.50" height="2.50" fill="#c8102e" />
<rect x="365.20" y="414.75" width="2.50" height="2.50" fill="#c8102e" />
<rect x="361.20" y="421.75" width="2.50" height="2.50" fill="#c8102e" />
<rect x="365.20" y="424.75" width="2.50" height="2.50" fill="#c8102e" />
<rect x="369.20" y="424.75" width="2.50" height="2.50" fill="#c8102e" />
<rect x="365.20" y="426.75" width="2.50" height="2.50" fill="#c8102e" />
<text transform="translate(305.60,401.55) rotate(-90)" x="0" y="0" font-size="8.2" text-anchor="middle" textLength="63.00" lengthAdjust="spacingAndGlyphs">Relative expression</text>
<line x1="344.40" y1="379.20" x2="358.80" y2="379.20" stroke="#0a0a0a" stroke-width="1.1" />
<path d="M349.90,374.30L349.90,376.50M348.95,374.85L350.85,375.95M348.95,375.95L350.85,374.85" stroke="#111" stroke-width="0.9" stroke-linecap="round"/>
<path d="M353.30,374.30L353.30,376.50M352.35,374.85L354.25,375.95M352.35,375.95L354.25,374.85" stroke="#111" stroke-width="0.9" stroke-linecap="round"/>
<circle cx="379.10" cy="373.80" r="1.80" fill="#0f4c8c"/>
<text x="383.70" y="376.40" font-size="8.2" textLength="11.10" lengthAdjust="spacingAndGlyphs" >WT</text>
<rect x="377.80" y="379.80" width="4.00" height="4.00" fill="#c8102e" />
<text x="384.90" y="384.60" font-size="8.2" textLength="10.90" lengthAdjust="spacingAndGlyphs" >KO</text>
<text x="9.60" y="457.10" font-size="11.4" fill="#000" font-weight="bold" >G</text>
<circle cx="90.80" cy="461.30" r="2.00" fill="#0f4c8c"/>
<text x="94.60" y="464.30" font-size="8.4" textLength="11.60" lengthAdjust="spacingAndGlyphs" >WT</text>
<rect x="112.60" y="459.40" width="3.80" height="3.80" fill="#c8102e" />
<text x="119.60" y="464.30" font-size="8.4" textLength="10.80" lengthAdjust="spacingAndGlyphs" >KO</text>
<line x1="39.40" y1="472.90" x2="39.40" y2="529.20" stroke="#0a0a0a" stroke-width="1.25" />
<line x1="36.70" y1="472.90" x2="39.40" y2="472.90" stroke="#0a0a0a" stroke-width="1.25" />
<text x="34.40" y="475.90" font-size="9.0" text-anchor="end" textLength="8.80" lengthAdjust="spacingAndGlyphs" >20</text>
<line x1="36.70" y1="486.98" x2="39.40" y2="486.98" stroke="#0a0a0a" stroke-width="1.25" />
<text x="34.40" y="489.98" font-size="9.0" text-anchor="end" textLength="8.80" lengthAdjust="spacingAndGlyphs" >15</text>
<line x1="36.70" y1="501.05" x2="39.40" y2="501.05" stroke="#0a0a0a" stroke-width="1.25" />
<text x="34.40" y="504.05" font-size="9.0" text-anchor="end" textLength="8.80" lengthAdjust="spacingAndGlyphs" >10</text>
<line x1="36.70" y1="515.12" x2="39.40" y2="515.12" stroke="#0a0a0a" stroke-width="1.25" />
<text x="34.40" y="518.12" font-size="9.0" text-anchor="end" textLength="4.40" lengthAdjust="spacingAndGlyphs" >5</text>
<line x1="36.70" y1="529.20" x2="39.40" y2="529.20" stroke="#0a0a0a" stroke-width="1.25" />
<text x="34.40" y="532.20" font-size="9.0" text-anchor="end" textLength="4.40" lengthAdjust="spacingAndGlyphs" >0</text>
<line x1="39.40" y1="529.20" x2="98.50" y2="529.20" stroke="#0a0a0a" stroke-width="1.25" />
<text x="55.80" y="467.00" font-size="9.5" font-style="italic" textLength="28.80" lengthAdjust="spacingAndGlyphs" >Reg3b</text>
<rect x="49.00" y="527.30" width="16.40" height="1.90" fill="#0f4c8c" fill-opacity="0.5" stroke="#0f4c8c" stroke-opacity="0.25" stroke-width="0.8"/>
<rect x="74.00" y="500.80" width="16.40" height="28.40" fill="#c8102e" fill-opacity="0.5" stroke="#c8102e" stroke-opacity="0.25" stroke-width="0.8"/>
<line x1="57.20" y1="523.00" x2="57.20" y2="528.00" stroke="#0f4c8c" stroke-width="0.9" />
<line x1="54.20" y1="523.00" x2="60.20" y2="523.00" stroke="#0f4c8c" stroke-width="0.9" />
<line x1="54.20" y1="528.00" x2="60.20" y2="528.00" stroke="#0f4c8c" stroke-width="0.9" />
<line x1="82.20" y1="484.00" x2="82.20" y2="515.50" stroke="#c8102e" stroke-width="0.9" />
<line x1="79.20" y1="484.00" x2="85.20" y2="484.00" stroke="#c8102e" stroke-width="0.9" />
<line x1="79.20" y1="515.50" x2="85.20" y2="515.50" stroke="#c8102e" stroke-width="0.9" />
<circle cx="57.20" cy="518.50" r="1.25" fill="#0f4c8c"/>
<circle cx="55.70" cy="523.00" r="1.25" fill="#0f4c8c"/>
<circle cx="58.70" cy="523.00" r="1.25" fill="#0f4c8c"/>
<circle cx="51.20" cy="527.00" r="1.25" fill="#0f4c8c"/>
<circle cx="54.20" cy="527.50" r="1.25" fill="#0f4c8c"/>
<circle cx="57.20" cy="528.00" r="1.25" fill="#0f4c8c"/>
<circle cx="60.20" cy="527.50" r="1.25" fill="#0f4c8c"/>
<circle cx="63.20" cy="527.00" r="1.25" fill="#0f4c8c"/>
<circle cx="53.20" cy="529.00" r="1.25" fill="#0f4c8c"/>
<circle cx="61.20" cy="529.00" r="1.25" fill="#0f4c8c"/>
<circle cx="82.20" cy="481.50" r="1.25" fill="#c8102e"/>
<circle cx="86.20" cy="491.00" r="1.25" fill="#c8102e"/>
<circle cx="78.20" cy="492.00" r="1.25" fill="#c8102e"/>
<circle cx="82.20" cy="496.00" r="1.25" fill="#c8102e"/>
<circle cx="82.20" cy="501.00" r="1.25" fill="#c8102e"/>
<circle cx="82.20" cy="516.00" r="1.25" fill="#c8102e"/>
<circle cx="82.20" cy="529.00" r="1.25" fill="#c8102e"/>
<text transform="translate(21.00,501.05) rotate(-90)" x="0" y="0" font-size="8.2" text-anchor="middle" textLength="63.00" lengthAdjust="spacingAndGlyphs">Relative expression</text>
<line x1="62.50" y1="479.20" x2="77.00" y2="479.20" stroke="#0a0a0a" stroke-width="1.1" />
<path d="M68.05,474.30L68.05,476.50M67.10,474.85L69.00,475.95M67.10,475.95L69.00,474.85" stroke="#111" stroke-width="0.9" stroke-linecap="round"/>
<path d="M71.45,474.30L71.45,476.50M70.50,474.85L72.40,475.95M70.50,475.95L72.40,474.85" stroke="#111" stroke-width="0.9" stroke-linecap="round"/>
<line x1="135.40" y1="473.50" x2="135.40" y2="530.00" stroke="#0a0a0a" stroke-width="1.25" />
<line x1="132.70" y1="473.50" x2="135.40" y2="473.50" stroke="#0a0a0a" stroke-width="1.25" />
<text x="130.40" y="476.50" font-size="9.0" text-anchor="end" textLength="8.80" lengthAdjust="spacingAndGlyphs" >10</text>
<line x1="132.70" y1="484.80" x2="135.40" y2="484.80" stroke="#0a0a0a" stroke-width="1.25" />
<text x="130.40" y="487.80" font-size="9.0" text-anchor="end" textLength="4.40" lengthAdjust="spacingAndGlyphs" >8</text>
<line x1="132.70" y1="496.10" x2="135.40" y2="496.10" stroke="#0a0a0a" stroke-width="1.25" />
<text x="130.40" y="499.10" font-size="9.0" text-anchor="end" textLength="4.40" lengthAdjust="spacingAndGlyphs" >6</text>
<line x1="132.70" y1="507.40" x2="135.40" y2="507.40" stroke="#0a0a0a" stroke-width="1.25" />
<text x="130.40" y="510.40" font-size="9.0" text-anchor="end" textLength="4.40" lengthAdjust="spacingAndGlyphs" >4</text>
<line x1="132.70" y1="518.70" x2="135.40" y2="518.70" stroke="#0a0a0a" stroke-width="1.25" />
<text x="130.40" y="521.70" font-size="9.0" text-anchor="end" textLength="4.40" lengthAdjust="spacingAndGlyphs" >2</text>
<line x1="132.70" y1="530.00" x2="135.40" y2="530.00" stroke="#0a0a0a" stroke-width="1.25" />
<text x="130.40" y="533.00" font-size="9.0" text-anchor="end" textLength="4.40" lengthAdjust="spacingAndGlyphs" >0</text>
<line x1="135.40" y1="530.00" x2="186.00" y2="530.00" stroke="#0a0a0a" stroke-width="1.25" />
<text x="151.30" y="467.70" font-size="9.5" font-style="italic" textLength="27.50" lengthAdjust="spacingAndGlyphs" >Reg3g</text>
<rect x="142.70" y="528.20" width="16.30" height="1.80" fill="#0f4c8c" fill-opacity="0.5" stroke="#0f4c8c" stroke-opacity="0.25" stroke-width="0.8"/>
<rect x="168.00" y="505.20" width="17.00" height="24.80" fill="#c8102e" fill-opacity="0.5" stroke="#c8102e" stroke-opacity="0.25" stroke-width="0.8"/>
<line x1="150.85" y1="526.00" x2="150.85" y2="529.50" stroke="#0f4c8c" stroke-width="0.9" />
<line x1="147.85" y1="526.00" x2="153.85" y2="526.00" stroke="#0f4c8c" stroke-width="0.9" />
<line x1="147.85" y1="529.50" x2="153.85" y2="529.50" stroke="#0f4c8c" stroke-width="0.9" />
<line x1="176.50" y1="485.00" x2="176.50" y2="524.00" stroke="#c8102e" stroke-width="0.9" />
<line x1="173.50" y1="485.00" x2="179.50" y2="485.00" stroke="#c8102e" stroke-width="0.9" />
<line x1="173.50" y1="524.00" x2="179.50" y2="524.00" stroke="#c8102e" stroke-width="0.9" />
<circle cx="148.85" cy="524.00" r="1.25" fill="#0f4c8c"/>
<circle cx="152.85" cy="524.00" r="1.25" fill="#0f4c8c"/>
<circle cx="144.85" cy="528.00" r="1.25" fill="#0f4c8c"/>
<circle cx="147.85" cy="528.00" r="1.25" fill="#0f4c8c"/>
<circle cx="150.85" cy="528.50" r="1.25" fill="#0f4c8c"/>
<circle cx="153.85" cy="528.00" r="1.25" fill="#0f4c8c"/>
<circle cx="156.85" cy="528.00" r="1.25" fill="#0f4c8c"/>
<circle cx="146.85" cy="529.50" r="1.25" fill="#0f4c8c"/>
<circle cx="154.85" cy="529.50" r="1.25" fill="#0f4c8c"/>
<circle cx="175.00" cy="482.00" r="1.25" fill="#c8102e"/>
<circle cx="178.00" cy="480.50" r="1.25" fill="#c8102e"/>
<circle cx="176.50" cy="491.00" r="1.25" fill="#c8102e"/>
<circle cx="176.50" cy="502.00" r="1.25" fill="#c8102e"/>
<circle cx="176.50" cy="513.00" r="1.25" fill="#c8102e"/>
<circle cx="176.50" cy="518.00" r="1.25" fill="#c8102e"/>
<circle cx="178.00" cy="529.00" r="1.25" fill="#c8102e"/>
<circle cx="175.00" cy="530.00" r="1.25" fill="#c8102e"/>
<text transform="translate(117.40,501.75) rotate(-90)" x="0" y="0" font-size="8.2" text-anchor="middle" textLength="63.00" lengthAdjust="spacingAndGlyphs">Relative expression</text>
<line x1="156.50" y1="480.00" x2="170.60" y2="480.00" stroke="#0a0a0a" stroke-width="1.1" />
<path d="M163.55,475.10L163.55,477.30M162.60,475.65L164.50,476.75M162.60,476.75L164.50,475.65" stroke="#111" stroke-width="0.9" stroke-linecap="round"/>
<text x="208.70" y="457.30" font-size="11.4" fill="#000" font-weight="bold" >H</text>
<text x="233.70" y="461.30" font-size="8.8" textLength="62.50" lengthAdjust="spacingAndGlyphs" >Alpha diversity</text>
<line x1="228.50" y1="468.80" x2="228.50" y2="530.20" stroke="#0a0a0a" stroke-width="1.25" />
<line x1="225.80" y1="468.80" x2="228.50" y2="468.80" stroke="#0a0a0a" stroke-width="1.25" />
<text x="223.50" y="471.80" font-size="9.0" text-anchor="end" textLength="8.80" lengthAdjust="spacingAndGlyphs" >40</text>
<line x1="225.80" y1="484.10" x2="228.50" y2="484.10" stroke="#0a0a0a" stroke-width="1.25" />
<text x="223.50" y="487.10" font-size="9.0" text-anchor="end" textLength="8.80" lengthAdjust="spacingAndGlyphs" >30</text>
<line x1="225.80" y1="499.40" x2="228.50" y2="499.40" stroke="#0a0a0a" stroke-width="1.25" />
<text x="223.50" y="502.40" font-size="9.0" text-anchor="end" textLength="8.80" lengthAdjust="spacingAndGlyphs" >20</text>
<line x1="225.80" y1="514.70" x2="228.50" y2="514.70" stroke="#0a0a0a" stroke-width="1.25" />
<text x="223.50" y="517.70" font-size="9.0" text-anchor="end" textLength="8.80" lengthAdjust="spacingAndGlyphs" >10</text>
<line x1="225.80" y1="530.00" x2="228.50" y2="530.00" stroke="#0a0a0a" stroke-width="1.25" />
<text x="223.50" y="533.00" font-size="9.0" text-anchor="end" textLength="4.40" lengthAdjust="spacingAndGlyphs" >0</text>
<line x1="228.50" y1="530.20" x2="301.00" y2="530.20" stroke="#0a0a0a" stroke-width="1.25" />
<line x1="243.10" y1="530.20" x2="243.10" y2="532.60" stroke="#0a0a0a" stroke-width="1.25" />
<line x1="265.30" y1="530.20" x2="265.30" y2="532.60" stroke="#0a0a0a" stroke-width="1.25" />
<line x1="287.20" y1="530.20" x2="287.20" y2="532.60" stroke="#0a0a0a" stroke-width="1.25" />
<text x="243.20" y="542.30" font-size="8.0" text-anchor="middle" textLength="11.50" lengthAdjust="spacingAndGlyphs" >WT</text>
<text x="265.20" y="542.30" font-size="8.0" text-anchor="middle" textLength="12.00" lengthAdjust="spacingAndGlyphs" >KO</text>
<text x="273.50" y="542.30" font-size="8.0" textLength="26.60" lengthAdjust="spacingAndGlyphs" >Control</text>
<text transform="translate(209.40,499.20) rotate(-90)" x="0" y="0" font-size="8.2" text-anchor="middle" textLength="62.50" lengthAdjust="spacingAndGlyphs">Simpson reciprocal</text>
<line x1="245.80" y1="470.40" x2="288.00" y2="470.40" stroke="#555" stroke-width="1.1" />
<path d="M264.40,465.25L264.40,467.95M263.23,465.93L265.57,467.28M263.23,467.28L265.57,465.93" stroke="#111" stroke-width="0.9" stroke-linecap="round"/>
<line x1="245.80" y1="480.00" x2="265.80" y2="480.00" stroke="#555" stroke-width="1.1" />
<path d="M256.00,474.85L256.00,477.55M254.83,475.52L257.17,476.88M254.83,476.88L257.17,475.52" stroke="#111" stroke-width="0.9" stroke-linecap="round"/>
<line x1="243.10" y1="517.00" x2="243.10" y2="526.00" stroke="#0f4c8c" stroke-width="0.9" />
<line x1="239.90" y1="517.00" x2="246.30" y2="517.00" stroke="#0f4c8c" stroke-width="0.9" />
<line x1="239.90" y1="526.00" x2="246.30" y2="526.00" stroke="#0f4c8c" stroke-width="0.9" />
<line x1="236.50" y1="522.00" x2="250.00" y2="522.00" stroke="#0f4c8c" stroke-width="0.9" />
<circle cx="245.50" cy="512.70" r="1.30" fill="#0f4c8c"/>
<circle cx="238.50" cy="517.00" r="1.30" fill="#0f4c8c"/>
<circle cx="241.00" cy="518.50" r="1.30" fill="#0f4c8c"/>
<circle cx="244.00" cy="519.00" r="1.30" fill="#0f4c8c"/>
<circle cx="237.00" cy="522.50" r="1.30" fill="#0f4c8c"/>
<circle cx="240.00" cy="522.50" r="1.30" fill="#0f4c8c"/>
<circle cx="243.00" cy="523.00" r="1.30" fill="#0f4c8c"/>
<circle cx="246.00" cy="522.50" r="1.30" fill="#0f4c8c"/>
<circle cx="249.00" cy="522.50" r="1.30" fill="#0f4c8c"/>
<circle cx="241.00" cy="525.50" r="1.30" fill="#0f4c8c"/>
<circle cx="245.00" cy="525.50" r="1.30" fill="#0f4c8c"/>
<circle cx="243.00" cy="527.00" r="1.30" fill="#0f4c8c"/>
<line x1="265.30" y1="497.50" x2="265.30" y2="524.00" stroke="#c8102e" stroke-width="0.9" />
<line x1="262.10" y1="497.50" x2="268.50" y2="497.50" stroke="#c8102e" stroke-width="0.9" />
<line x1="262.10" y1="524.00" x2="268.50" y2="524.00" stroke="#c8102e" stroke-width="0.9" />
<line x1="258.00" y1="511.00" x2="272.50" y2="511.00" stroke="#c8102e" stroke-width="0.9" />
<rect x="266.20" y="484.90" width="2.60" height="2.60" fill="#c8102e" />
<rect x="261.20" y="490.20" width="2.60" height="2.60" fill="#c8102e" />
<rect x="263.70" y="498.20" width="2.60" height="2.60" fill="#c8102e" />
<rect x="265.70" y="506.70" width="2.60" height="2.60" fill="#c8102e" />
<rect x="261.20" y="510.90" width="2.60" height="2.60" fill="#c8102e" />
<rect x="256.70" y="516.20" width="2.60" height="2.60" fill="#c8102e" />
<rect x="263.70" y="516.20" width="2.60" height="2.60" fill="#c8102e" />
<rect x="268.20" y="514.70" width="2.60" height="2.60" fill="#c8102e" />
<rect x="259.20" y="520.70" width="2.60" height="2.60" fill="#c8102e" />
<rect x="268.20" y="521.70" width="2.60" height="2.60" fill="#c8102e" />
<rect x="263.70" y="524.20" width="2.60" height="2.60" fill="#c8102e" />
<line x1="287.20" y1="506.50" x2="287.20" y2="518.40" stroke="#3bb54a" stroke-width="0.9" />
<line x1="284.00" y1="506.50" x2="290.40" y2="506.50" stroke="#3bb54a" stroke-width="0.9" />
<line x1="284.00" y1="518.40" x2="290.40" y2="518.40" stroke="#3bb54a" stroke-width="0.9" />
<line x1="280.00" y1="512.30" x2="294.50" y2="512.30" stroke="#3bb54a" stroke-width="0.9" />
<path d="M287.20,503.96L288.60,506.62L285.80,506.62Z" fill="#3bb54a"/>
<path d="M284.50,509.96L285.90,512.62L283.10,512.62Z" fill="#3bb54a"/>
<path d="M289.50,512.96L290.90,515.62L288.10,515.62Z" fill="#3bb54a"/>
<path d="M287.20,517.96L288.60,520.62L285.80,520.62Z" fill="#3bb54a"/>
<text x="309.00" y="456.90" font-size="11.4" fill="#000" font-weight="bold" >I</text>
<line x1="325.70" y1="460.90" x2="336.30" y2="460.90" stroke="#0f4c8c" stroke-width="2.6" />
<text x="337.80" y="463.70" font-size="8.3" textLength="11.60" lengthAdjust="spacingAndGlyphs" >WT</text>
<line x1="355.30" y1="460.90" x2="365.90" y2="460.90" stroke="#c8102e" stroke-width="2.6" />
<text x="367.40" y="463.70" font-size="8.3" textLength="10.60" lengthAdjust="spacingAndGlyphs" >KO</text>
<rect x="414.30" y="470.60" width="74.64" height="4.30" fill="#0f4c8c" />
<text x="412.90" y="473.90" font-size="7.1" text-anchor="end" textLength="39.80" lengthAdjust="spacingAndGlyphs" >Lactobacillus</text>
<rect x="414.30" y="476.32" width="69.02" height="4.30" fill="#0f4c8c" />
<text x="412.90" y="479.62" font-size="7.1" text-anchor="end" textLength="41.30" lengthAdjust="spacingAndGlyphs" >Enterococcus</text>
<rect x="414.30" y="482.04" width="62.96" height="4.30" fill="#0f4c8c" />
<text x="412.90" y="485.34" font-size="7.1" text-anchor="end" textLength="22.20" lengthAdjust="spacingAndGlyphs" >Listeria</text>
<rect x="414.30" y="487.76" width="58.10" height="4.30" fill="#0f4c8c" />
<text x="412.90" y="491.06" font-size="7.1" text-anchor="end" textLength="47.60" lengthAdjust="spacingAndGlyphs" >Staphylococcus</text>
<rect x="414.30" y="493.48" width="56.58" height="4.30" fill="#0f4c8c" />
<text x="412.90" y="496.78" font-size="7.1" text-anchor="end" textLength="42.70" lengthAdjust="spacingAndGlyphs" >Coprobacillus</text>
<rect x="356.65" y="499.20" width="57.65" height="4.30" fill="#c8102e" />
<text x="415.80" y="503.50" font-size="7.1" textLength="20.70" lengthAdjust="spacingAndGlyphs" >Blautia</text>
<rect x="354.38" y="504.92" width="59.92" height="4.30" fill="#c8102e" />
<text x="415.80" y="509.22" font-size="7.1" textLength="40.00" lengthAdjust="spacingAndGlyphs" >Coprococcus</text>
<rect x="353.01" y="510.64" width="61.29" height="4.30" fill="#c8102e" />
<text x="415.80" y="514.94" font-size="7.1" textLength="35.20" lengthAdjust="spacingAndGlyphs" >Butyrivibrio</text>
<rect x="348.16" y="516.36" width="66.14" height="4.30" fill="#c8102e" />
<text x="415.80" y="520.66" font-size="7.1" textLength="35.20" lengthAdjust="spacingAndGlyphs" >Oscillospira</text>
<rect x="335.87" y="522.08" width="78.43" height="4.30" fill="#c8102e" />
<text x="415.80" y="526.38" font-size="7.1" textLength="35.20" lengthAdjust="spacingAndGlyphs" >Clostridium</text>
<line x1="323.80" y1="529.60" x2="505.80" y2="529.60" stroke="#0a0a0a" stroke-width="1.25" />
<line x1="323.80" y1="529.60" x2="323.80" y2="532.90" stroke="#0a0a0a" stroke-width="1.25" />
<text x="322.90" y="542.70" font-size="8.3" text-anchor="middle" textLength="14.90" lengthAdjust="spacingAndGlyphs" >&#8722;6.0</text>
<line x1="342.00" y1="529.60" x2="342.00" y2="532.90" stroke="#0a0a0a" stroke-width="1.25" />
<text x="341.10" y="542.70" font-size="8.3" text-anchor="middle" textLength="14.90" lengthAdjust="spacingAndGlyphs" >&#8722;4.8</text>
<line x1="360.20" y1="529.60" x2="360.20" y2="532.90" stroke="#0a0a0a" stroke-width="1.25" />
<text x="359.30" y="542.70" font-size="8.3" text-anchor="middle" textLength="14.90" lengthAdjust="spacingAndGlyphs" >&#8722;3.6</text>
<line x1="378.40" y1="529.60" x2="378.40" y2="532.90" stroke="#0a0a0a" stroke-width="1.25" />
<text x="377.50" y="542.70" font-size="8.3" text-anchor="middle" textLength="14.90" lengthAdjust="spacingAndGlyphs" >&#8722;2.4</text>
<line x1="396.60" y1="529.60" x2="396.60" y2="532.90" stroke="#0a0a0a" stroke-width="1.25" />
<text x="395.70" y="542.70" font-size="8.3" text-anchor="middle" textLength="14.90" lengthAdjust="spacingAndGlyphs" >&#8722;1.2</text>
<line x1="414.80" y1="529.60" x2="414.80" y2="532.90" stroke="#0a0a0a" stroke-width="1.25" />
<text x="414.80" y="542.70" font-size="8.3" text-anchor="middle" textLength="10.70" lengthAdjust="spacingAndGlyphs" >0.0</text>
<line x1="433.00" y1="529.60" x2="433.00" y2="532.90" stroke="#0a0a0a" stroke-width="1.25" />
<text x="433.00" y="542.70" font-size="8.3" text-anchor="middle" textLength="10.70" lengthAdjust="spacingAndGlyphs" >1.2</text>
<line x1="451.20" y1="529.60" x2="451.20" y2="532.90" stroke="#0a0a0a" stroke-width="1.25" />
<text x="451.20" y="542.70" font-size="8.3" text-anchor="middle" textLength="10.70" lengthAdjust="spacingAndGlyphs" >2.4</text>
<line x1="469.40" y1="529.60" x2="469.40" y2="532.90" stroke="#0a0a0a" stroke-width="1.25" />
<text x="469.40" y="542.70" font-size="8.3" text-anchor="middle" textLength="10.70" lengthAdjust="spacingAndGlyphs" >3.6</text>
<line x1="487.60" y1="529.60" x2="487.60" y2="532.90" stroke="#0a0a0a" stroke-width="1.25" />
<text x="487.60" y="542.70" font-size="8.3" text-anchor="middle" textLength="10.70" lengthAdjust="spacingAndGlyphs" >4.8</text>
<line x1="505.80" y1="529.60" x2="505.80" y2="532.90" stroke="#0a0a0a" stroke-width="1.25" />
<text x="505.80" y="542.70" font-size="8.3" text-anchor="middle" textLength="10.70" lengthAdjust="spacingAndGlyphs" >6.0</text>
<text x="390.00" y="554.70" font-size="9.2" textLength="59.20" lengthAdjust="spacingAndGlyphs" >LDA score (log 10)</text>
<text x="9.80" y="554.20" font-size="11.4" fill="#000" font-weight="bold" >J</text>
<circle cx="102.70" cy="552.30" r="2.00" fill="#0f4c8c"/>
<text x="106.90" y="555.20" font-size="8.4" textLength="11.60" lengthAdjust="spacingAndGlyphs" >WT</text>
<rect x="125.10" y="550.40" width="3.80" height="3.80" fill="#c8102e" />
<text x="131.90" y="555.20" font-size="8.4" textLength="10.80" lengthAdjust="spacingAndGlyphs" >KO</text>
<line x1="40.40" y1="571.90" x2="40.40" y2="624.20" stroke="#0a0a0a" stroke-width="1.25" />
<line x1="37.70" y1="571.90" x2="40.40" y2="571.90" stroke="#0a0a0a" stroke-width="1.25" />
<text x="35.40" y="574.90" font-size="9.0" text-anchor="end" textLength="8.80" lengthAdjust="spacingAndGlyphs" >80</text>
<line x1="37.70" y1="584.98" x2="40.40" y2="584.98" stroke="#0a0a0a" stroke-width="1.25" />
<text x="35.40" y="587.98" font-size="9.0" text-anchor="end" textLength="8.80" lengthAdjust="spacingAndGlyphs" >60</text>
<line x1="37.70" y1="598.05" x2="40.40" y2="598.05" stroke="#0a0a0a" stroke-width="1.25" />
<text x="35.40" y="601.05" font-size="9.0" text-anchor="end" textLength="8.80" lengthAdjust="spacingAndGlyphs" >40</text>
<line x1="37.70" y1="611.12" x2="40.40" y2="611.12" stroke="#0a0a0a" stroke-width="1.25" />
<text x="35.40" y="614.12" font-size="9.0" text-anchor="end" textLength="8.80" lengthAdjust="spacingAndGlyphs" >20</text>
<line x1="37.70" y1="624.20" x2="40.40" y2="624.20" stroke="#0a0a0a" stroke-width="1.25" />
<text x="35.40" y="627.20" font-size="9.0" text-anchor="end" textLength="4.40" lengthAdjust="spacingAndGlyphs" >0</text>
<line x1="40.40" y1="624.20" x2="95.20" y2="624.20" stroke="#0a0a0a" stroke-width="1.25" />
<text x="51.50" y="567.60" font-size="9.2" textLength="33.10" lengthAdjust="spacingAndGlyphs" >Acetate</text>
<rect x="49.00" y="605.00" width="16.00" height="19.20" fill="#0f4c8c" fill-opacity="0.5" stroke="#0f4c8c" stroke-opacity="0.25" stroke-width="0.8"/>
<rect x="73.00" y="591.20" width="15.80" height="33.00" fill="#c8102e" fill-opacity="0.5" stroke="#c8102e" stroke-opacity="0.25" stroke-width="0.8"/>
<line x1="57.00" y1="600.00" x2="57.00" y2="610.00" stroke="#0f4c8c" stroke-width="0.9" />
<line x1="54.00" y1="600.00" x2="60.00" y2="600.00" stroke="#0f4c8c" stroke-width="0.9" />
<line x1="54.00" y1="610.00" x2="60.00" y2="610.00" stroke="#0f4c8c" stroke-width="0.9" />
<line x1="80.90" y1="587.00" x2="80.90" y2="595.00" stroke="#c8102e" stroke-width="0.9" />
<line x1="77.90" y1="587.00" x2="83.90" y2="587.00" stroke="#c8102e" stroke-width="0.9" />
<line x1="77.90" y1="595.00" x2="83.90" y2="595.00" stroke="#c8102e" stroke-width="0.9" />
<path d="M57.00,595.62L58.25,598.00L55.75,598.00Z" fill="#0f4c8c"/>
<path d="M57.00,598.12L58.25,600.50L55.75,600.50Z" fill="#0f4c8c"/>
<path d="M55.00,601.62L56.25,604.00L53.75,604.00Z" fill="#0f4c8c"/>
<path d="M59.00,602.62L60.25,605.00L57.75,605.00Z" fill="#0f4c8c"/>
<path d="M57.00,605.62L58.25,608.00L55.75,608.00Z" fill="#0f4c8c"/>
<path d="M57.00,609.12L58.25,611.50L55.75,611.50Z" fill="#0f4c8c"/>
<path d="M56.00,610.62L57.25,613.00L54.75,613.00Z" fill="#0f4c8c"/>
<circle cx="78.90" cy="585.50" r="1.25" fill="#c8102e"/>
<circle cx="82.90" cy="585.50" r="1.25" fill="#c8102e"/>
<circle cx="80.90" cy="588.00" r="1.25" fill="#c8102e"/>
<circle cx="78.90" cy="592.00" r="1.25" fill="#c8102e"/>
<circle cx="82.90" cy="592.00" r="1.25" fill="#c8102e"/>
<circle cx="80.90" cy="596.00" r="1.25" fill="#c8102e"/>
<text transform="translate(21.30,595.00) rotate(-90)" x="0" y="0" font-size="8.2" text-anchor="middle" textLength="66.50" lengthAdjust="spacingAndGlyphs">Concentration (mM)</text>
<line x1="61.50" y1="579.20" x2="75.40" y2="579.20" stroke="#0a0a0a" stroke-width="1.1" />
<path d="M66.75,574.30L66.75,576.50M65.80,574.85L67.70,575.95M65.80,575.95L67.70,574.85" stroke="#111" stroke-width="0.9" stroke-linecap="round"/>
<path d="M70.15,574.30L70.15,576.50M69.20,574.85L71.10,575.95M69.20,575.95L71.10,574.85" stroke="#111" stroke-width="0.9" stroke-linecap="round"/>
<line x1="135.40" y1="571.90" x2="135.40" y2="623.80" stroke="#0a0a0a" stroke-width="1.25" />
<line x1="132.70" y1="571.90" x2="135.40" y2="571.90" stroke="#0a0a0a" stroke-width="1.25" />
<text x="130.40" y="574.90" font-size="9.0" text-anchor="end" textLength="4.40" lengthAdjust="spacingAndGlyphs" >8</text>
<line x1="132.70" y1="584.88" x2="135.40" y2="584.88" stroke="#0a0a0a" stroke-width="1.25" />
<text x="130.40" y="587.88" font-size="9.0" text-anchor="end" textLength="4.40" lengthAdjust="spacingAndGlyphs" >6</text>
<line x1="132.70" y1="597.85" x2="135.40" y2="597.85" stroke="#0a0a0a" stroke-width="1.25" />
<text x="130.40" y="600.85" font-size="9.0" text-anchor="end" textLength="4.40" lengthAdjust="spacingAndGlyphs" >4</text>
<line x1="132.70" y1="610.82" x2="135.40" y2="610.82" stroke="#0a0a0a" stroke-width="1.25" />
<text x="130.40" y="613.82" font-size="9.0" text-anchor="end" textLength="4.40" lengthAdjust="spacingAndGlyphs" >2</text>
<line x1="132.70" y1="623.80" x2="135.40" y2="623.80" stroke="#0a0a0a" stroke-width="1.25" />
<text x="130.40" y="626.80" font-size="9.0" text-anchor="end" textLength="4.40" lengthAdjust="spacingAndGlyphs" >0</text>
<line x1="135.40" y1="623.80" x2="189.60" y2="623.80" stroke="#0a0a0a" stroke-width="1.25" />
<text x="139.60" y="567.00" font-size="9.2" textLength="45.80" lengthAdjust="spacingAndGlyphs" >Propionate</text>
<rect x="144.00" y="601.30" width="16.00" height="22.50" fill="#0f4c8c" fill-opacity="0.5" stroke="#0f4c8c" stroke-opacity="0.25" stroke-width="0.8"/>
<rect x="168.00" y="587.70" width="15.80" height="36.10" fill="#c8102e" fill-opacity="0.5" stroke="#c8102e" stroke-opacity="0.25" stroke-width="0.8"/>
<line x1="152.00" y1="592.50" x2="152.00" y2="610.00" stroke="#0f4c8c" stroke-width="0.9" />
<line x1="149.00" y1="592.50" x2="155.00" y2="592.50" stroke="#0f4c8c" stroke-width="0.9" />
<line x1="149.00" y1="610.00" x2="155.00" y2="610.00" stroke="#0f4c8c" stroke-width="0.9" />
<line x1="175.90" y1="584.50" x2="175.90" y2="591.50" stroke="#c8102e" stroke-width="0.9" />
<line x1="172.90" y1="584.50" x2="178.90" y2="584.50" stroke="#c8102e" stroke-width="0.9" />
<line x1="172.90" y1="591.50" x2="178.90" y2="591.50" stroke="#c8102e" stroke-width="0.9" />
<circle cx="152.00" cy="589.00" r="1.25" fill="#0f4c8c"/>
<circle cx="152.00" cy="601.00" r="1.25" fill="#0f4c8c"/>
<circle cx="153.00" cy="604.00" r="1.25" fill="#0f4c8c"/>
<circle cx="151.00" cy="608.00" r="1.25" fill="#0f4c8c"/>
<circle cx="152.00" cy="610.00" r="1.25" fill="#0f4c8c"/>
<circle cx="175.90" cy="583.00" r="1.25" fill="#c8102e"/>
<circle cx="173.90" cy="586.00" r="1.25" fill="#c8102e"/>
<circle cx="177.90" cy="587.00" r="1.25" fill="#c8102e"/>
<circle cx="175.90" cy="589.00" r="1.25" fill="#c8102e"/>
<circle cx="173.90" cy="591.00" r="1.25" fill="#c8102e"/>
<circle cx="177.90" cy="591.00" r="1.25" fill="#c8102e"/>
<circle cx="175.90" cy="592.00" r="1.25" fill="#c8102e"/>
<text transform="translate(120.20,595.00) rotate(-90)" x="0" y="0" font-size="8.2" text-anchor="middle" textLength="66.50" lengthAdjust="spacingAndGlyphs">Concentration (mM)</text>
<line x1="156.90" y1="579.20" x2="171.00" y2="579.20" stroke="#0a0a0a" stroke-width="1.1" />
<path d="M162.25,574.30L162.25,576.50M161.30,574.85L163.20,575.95M161.30,575.95L163.20,574.85" stroke="#111" stroke-width="0.9" stroke-linecap="round"/>
<path d="M165.65,574.30L165.65,576.50M164.70,574.85L166.60,575.95M164.70,575.95L166.60,574.85" stroke="#111" stroke-width="0.9" stroke-linecap="round"/>
<line x1="228.50" y1="569.00" x2="228.50" y2="623.80" stroke="#0a0a0a" stroke-width="1.25" />
<line x1="225.80" y1="569.00" x2="228.50" y2="569.00" stroke="#0a0a0a" stroke-width="1.25" />
<text x="223.50" y="572.00" font-size="9.0" text-anchor="end" textLength="8.80" lengthAdjust="spacingAndGlyphs" >20</text>
<line x1="225.80" y1="582.70" x2="228.50" y2="582.70" stroke="#0a0a0a" stroke-width="1.25" />
<text x="223.50" y="585.70" font-size="9.0" text-anchor="end" textLength="8.80" lengthAdjust="spacingAndGlyphs" >15</text>
<line x1="225.80" y1="596.40" x2="228.50" y2="596.40" stroke="#0a0a0a" stroke-width="1.25" />
<text x="223.50" y="599.40" font-size="9.0" text-anchor="end" textLength="8.80" lengthAdjust="spacingAndGlyphs" >10</text>
<line x1="225.80" y1="610.10" x2="228.50" y2="610.10" stroke="#0a0a0a" stroke-width="1.25" />
<text x="223.50" y="613.10" font-size="9.0" text-anchor="end" textLength="4.40" lengthAdjust="spacingAndGlyphs" >5</text>
<line x1="225.80" y1="623.80" x2="228.50" y2="623.80" stroke="#0a0a0a" stroke-width="1.25" />
<text x="223.50" y="626.80" font-size="9.0" text-anchor="end" textLength="4.40" lengthAdjust="spacingAndGlyphs" >0</text>
<line x1="228.50" y1="623.80" x2="283.30" y2="623.80" stroke="#0a0a0a" stroke-width="1.25" />
<text x="238.10" y="567.60" font-size="9.2" textLength="35.60" lengthAdjust="spacingAndGlyphs" >Butyrate</text>
<rect x="237.10" y="617.70" width="16.40" height="6.10" fill="#0f4c8c" fill-opacity="0.5" stroke="#0f4c8c" stroke-opacity="0.25" stroke-width="0.8"/>
<rect x="262.10" y="606.90" width="16.70" height="16.90" fill="#c8102e" fill-opacity="0.5" stroke="#c8102e" stroke-opacity="0.25" stroke-width="0.8"/>
<line x1="245.30" y1="612.00" x2="245.30" y2="623.80" stroke="#0f4c8c" stroke-width="0.9" />
<line x1="242.30" y1="612.00" x2="248.30" y2="612.00" stroke="#0f4c8c" stroke-width="0.9" />
<line x1="242.30" y1="623.80" x2="248.30" y2="623.80" stroke="#0f4c8c" stroke-width="0.9" />
<line x1="270.45" y1="598.50" x2="270.45" y2="614.00" stroke="#c8102e" stroke-width="0.9" />
<line x1="267.45" y1="598.50" x2="273.45" y2="598.50" stroke="#c8102e" stroke-width="0.9" />
<line x1="267.45" y1="614.00" x2="273.45" y2="614.00" stroke="#c8102e" stroke-width="0.9" />
<circle cx="242.30" cy="610.00" r="1.25" fill="#0f4c8c"/>
<circle cx="245.30" cy="611.00" r="1.25" fill="#0f4c8c"/>
<circle cx="245.30" cy="615.00" r="1.25" fill="#0f4c8c"/>
<circle cx="242.30" cy="620.00" r="1.25" fill="#0f4c8c"/>
<circle cx="245.30" cy="621.00" r="1.25" fill="#0f4c8c"/>
<circle cx="248.30" cy="621.00" r="1.25" fill="#0f4c8c"/>
<circle cx="273.45" cy="596.00" r="1.25" fill="#c8102e"/>
<circle cx="269.45" cy="599.00" r="1.25" fill="#c8102e"/>
<circle cx="270.45" cy="607.00" r="1.25" fill="#c8102e"/>
<circle cx="268.45" cy="614.00" r="1.25" fill="#c8102e"/>
<circle cx="272.45" cy="614.00" r="1.25" fill="#c8102e"/>
<text transform="translate(210.00,595.00) rotate(-90)" x="0" y="0" font-size="8.2" text-anchor="middle" textLength="66.50" lengthAdjust="spacingAndGlyphs">Concentration (mM)</text>
<line x1="251.20" y1="579.60" x2="264.60" y2="579.60" stroke="#0a0a0a" stroke-width="1.1" />
<path d="M256.20,574.70L256.20,576.90M255.25,575.25L257.15,576.35M255.25,576.35L257.15,575.25" stroke="#111" stroke-width="0.9" stroke-linecap="round"/>
<path d="M259.60,574.70L259.60,576.90M258.65,575.25L260.55,576.35M258.65,576.35L260.55,575.25" stroke="#111" stroke-width="0.9" stroke-linecap="round"/>
<rect x="0" y="0" width="1.25" height="640" fill="#000"/><rect x="0" y="0" width="520" height="1.2" fill="#000"/><rect x="518.6" y="0" width="1.4" height="640" fill="#000"/><rect x="0" y="638.6" width="520" height="1.4" fill="#000"/>
</svg></body></html>
